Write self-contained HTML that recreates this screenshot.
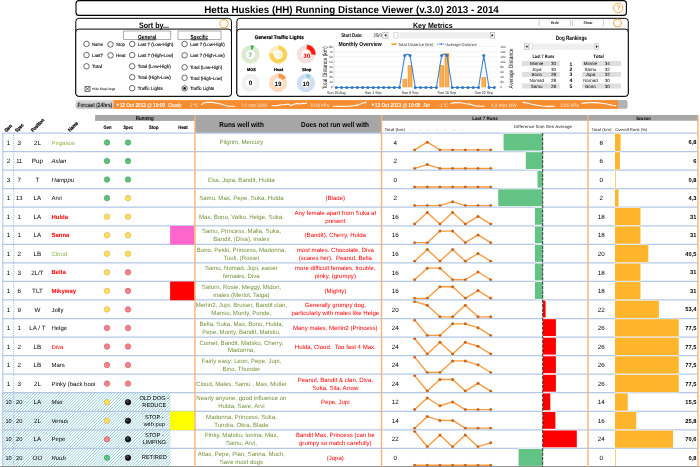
<!DOCTYPE html>
<html><head><meta charset="utf-8"><title>Hetta Huskies (HH) Running Distance Viewer</title>
<style>
html,body{margin:0;padding:0;background:#fff;}
#wrap{position:relative;width:700px;height:467px;overflow:hidden;background:#fff;font-family:"Liberation Sans", sans-serif;}
#wrap svg{position:absolute;left:0;top:0;will-change:transform;}
svg text{font-family:"Liberation Sans", sans-serif;text-rendering:geometricPrecision;}
.c{position:absolute;display:flex;align-items:center;justify-content:center;text-align:center;color:#000;line-height:1.15;box-sizing:border-box;padding-top:1.2px;text-rendering:geometricPrecision;}
</style></head><body>
<div id="wrap">
<svg width="700" height="467" viewBox="0 0 700 467">
<defs>
<radialGradient id="dg" cx="50%" cy="45%" r="55%"><stop offset="0" stop-color="#56b874"/><stop offset="0.6" stop-color="#62c683"/><stop offset="1" stop-color="#4fb56f"/></radialGradient>
<radialGradient id="dy" cx="50%" cy="45%" r="55%"><stop offset="0" stop-color="#ffd535"/><stop offset="0.6" stop-color="#ffe862"/><stop offset="1" stop-color="#ffd95a"/></radialGradient>
<radialGradient id="dr" cx="50%" cy="45%" r="55%"><stop offset="0" stop-color="#f0707a"/><stop offset="0.6" stop-color="#f98c93"/><stop offset="1" stop-color="#ee747d"/></radialGradient>
<radialGradient id="dk" cx="40%" cy="35%" r="60%"><stop offset="0" stop-color="#555"/><stop offset="0.6" stop-color="#1a1a1a"/><stop offset="1" stop-color="#000"/></radialGradient>
<linearGradient id="ob" x1="0" y1="0" x2="1" y2="0"><stop offset="0" stop-color="#f7982a"/><stop offset="0.45" stop-color="#fbb464"/><stop offset="1" stop-color="#f7982a"/></linearGradient>
<linearGradient id="oc" x1="0" y1="0" x2="1" y2="1"><stop offset="0" stop-color="#ffffff"/><stop offset="1" stop-color="#fde3c6"/></linearGradient>
<clipPath id="nclip"><rect x="50" y="130" width="45.1" height="340"/></clipPath>
<linearGradient id="gl" x1="0" y1="0" x2="0" y2="1"><stop offset="0" stop-color="#dcdcdc"/><stop offset="1" stop-color="#b9b9b9"/></linearGradient>
</defs>
<rect x="76.00" y="0.60" width="550.40" height="14.80" rx="3" ry="3" fill="#fff" stroke="#000" stroke-width="1.1"/>
<text x="351.50" y="13.00" font-size="10" font-weight="bold" text-anchor="middle" fill="#000" textLength="294.70" lengthAdjust="spacingAndGlyphs">Hetta Huskies (HH) Running Distance Viewer (v.3.0) 2013 - 2014</text>
<circle cx="618.2" cy="7.9" r="4.75" fill="#fffdfb" stroke="#f7a046" stroke-width="0.9"/>
<text x="618.50" y="10.30" font-size="6.8" font-weight="normal" text-anchor="middle" fill="#f08a24">?</text>
<rect x="75.80" y="18.30" width="155.65" height="78.00" rx="3" ry="3" fill="#fff" stroke="#000" stroke-width="1.0"/>
<rect x="75.80" y="29.10" width="155.65" height="67.20" rx="3" ry="3" fill="#fff" stroke="#000" stroke-width="1.0"/>
<text x="153.90" y="28.00" font-size="8" font-weight="bold" text-anchor="middle" fill="#000" textLength="30.00" lengthAdjust="spacingAndGlyphs">Sort by...</text>
<circle cx="224" cy="23.6" r="4.1" fill="#fffdfb" stroke="#f7a046" stroke-width="0.95"/>
<rect x="123.70" y="31.00" width="47.10" height="8.30" fill="#fff" stroke="#777" stroke-width="0.6"/>
<rect x="178.00" y="31.00" width="43.00" height="8.30" fill="#fff" stroke="#777" stroke-width="0.6"/>
<text x="147.10" y="38.60" font-size="6.0" font-weight="bold" text-anchor="middle" fill="#000" textLength="18.40" lengthAdjust="spacingAndGlyphs" text-decoration="underline">General</text>
<text x="199.30" y="38.60" font-size="6.0" font-weight="bold" text-anchor="middle" fill="#000" textLength="17.40" lengthAdjust="spacingAndGlyphs" text-decoration="underline">Specific</text>
<circle cx="86.5" cy="43.9" r="2.75" fill="#fff" stroke="#2a2a2a" stroke-width="0.7"/>
<text x="92.05" y="45.60" font-size="4.7" font-weight="normal" text-anchor="start" fill="#111" textLength="11.00" lengthAdjust="spacingAndGlyphs" stroke="#111" stroke-width="0.13">Name</text>
<circle cx="86.5" cy="55.1" r="2.75" fill="#fff" stroke="#2a2a2a" stroke-width="0.7"/>
<text x="92.05" y="56.80" font-size="4.7" font-weight="normal" text-anchor="start" fill="#111" textLength="11.00" lengthAdjust="spacingAndGlyphs" stroke="#111" stroke-width="0.13">Last7</text>
<circle cx="86.5" cy="66.3" r="2.75" fill="#fff" stroke="#2a2a2a" stroke-width="0.7"/>
<text x="92.05" y="68.00" font-size="4.7" font-weight="normal" text-anchor="start" fill="#111" textLength="10.00" lengthAdjust="spacingAndGlyphs" stroke="#111" stroke-width="0.13">Total</text>
<circle cx="110.5" cy="44.4" r="2.75" fill="#fff" stroke="#2a2a2a" stroke-width="0.7"/>
<text x="116.05" y="46.10" font-size="4.7" font-weight="normal" text-anchor="start" fill="#111" textLength="9.00" lengthAdjust="spacingAndGlyphs" stroke="#111" stroke-width="0.13">Stop</text>
<circle cx="110.5" cy="55.4" r="2.75" fill="#fff" stroke="#2a2a2a" stroke-width="0.7"/>
<text x="116.05" y="57.10" font-size="4.7" font-weight="normal" text-anchor="start" fill="#111" textLength="9.50" lengthAdjust="spacingAndGlyphs" stroke="#111" stroke-width="0.13">Heat</text>
<circle cx="132.2" cy="44" r="2.75" fill="#fff" stroke="#2a2a2a" stroke-width="0.7"/>
<text x="137.75" y="45.70" font-size="4.7" font-weight="normal" text-anchor="start" fill="#111" textLength="35.50" lengthAdjust="spacingAndGlyphs" stroke="#111" stroke-width="0.13">Last 7 (Low-High)</text>
<circle cx="184.6" cy="44.0" r="2.75" fill="#fff" stroke="#2a2a2a" stroke-width="0.7"/>
<text x="190.15" y="45.70" font-size="4.7" font-weight="normal" text-anchor="start" fill="#111" textLength="34.60" lengthAdjust="spacingAndGlyphs" stroke="#111" stroke-width="0.13">Last 7 (Low-High)</text>
<circle cx="132.2" cy="55.1" r="2.75" fill="#fff" stroke="#2a2a2a" stroke-width="0.7"/>
<text x="137.75" y="56.80" font-size="4.7" font-weight="normal" text-anchor="start" fill="#111" textLength="35.50" lengthAdjust="spacingAndGlyphs" stroke="#111" stroke-width="0.13">Last 7 (High-Low)</text>
<circle cx="184.6" cy="55.3" r="2.75" fill="#fff" stroke="#2a2a2a" stroke-width="0.7"/>
<text x="190.15" y="57.00" font-size="4.7" font-weight="normal" text-anchor="start" fill="#111" textLength="34.60" lengthAdjust="spacingAndGlyphs" stroke="#111" stroke-width="0.13">Last 7 (High-Low)</text>
<circle cx="132.2" cy="66.3" r="2.75" fill="#fff" stroke="#2a2a2a" stroke-width="0.7"/>
<text x="137.75" y="68.00" font-size="4.7" font-weight="normal" text-anchor="start" fill="#111" textLength="33.00" lengthAdjust="spacingAndGlyphs" stroke="#111" stroke-width="0.13">Total (Low-High)</text>
<circle cx="184.6" cy="67.3" r="2.75" fill="#fff" stroke="#2a2a2a" stroke-width="0.7"/>
<text x="190.15" y="69.00" font-size="4.7" font-weight="normal" text-anchor="start" fill="#111" textLength="32.10" lengthAdjust="spacingAndGlyphs" stroke="#111" stroke-width="0.13">Total (Low-High)</text>
<circle cx="132.2" cy="77.2" r="2.75" fill="#fff" stroke="#2a2a2a" stroke-width="0.7"/>
<text x="137.75" y="78.90" font-size="4.7" font-weight="normal" text-anchor="start" fill="#111" textLength="33.00" lengthAdjust="spacingAndGlyphs" stroke="#111" stroke-width="0.13">Total (High-Low)</text>
<circle cx="184.6" cy="77.8" r="2.75" fill="#fff" stroke="#2a2a2a" stroke-width="0.7"/>
<text x="190.15" y="79.50" font-size="4.7" font-weight="normal" text-anchor="start" fill="#111" textLength="32.10" lengthAdjust="spacingAndGlyphs" stroke="#111" stroke-width="0.13">Total (High-Low)</text>
<circle cx="132.2" cy="88.2" r="2.75" fill="#fff" stroke="#2a2a2a" stroke-width="0.7"/>
<text x="137.75" y="89.90" font-size="4.7" font-weight="normal" text-anchor="start" fill="#111" textLength="25.00" lengthAdjust="spacingAndGlyphs" stroke="#111" stroke-width="0.13">Traffic Lights</text>
<circle cx="184.6" cy="88.4" r="2.75" fill="#fff" stroke="#2a2a2a" stroke-width="0.7"/>
<circle cx="184.6" cy="88.4" r="1.45" fill="#111"/>
<text x="190.15" y="90.10" font-size="4.7" font-weight="normal" text-anchor="start" fill="#111" textLength="24.10" lengthAdjust="spacingAndGlyphs" stroke="#111" stroke-width="0.13">Traffic Lights</text>
<rect x="85.00" y="86.40" width="5.00" height="5.00" fill="#fff" stroke="#222" stroke-width="0.6"/>
<path d="M85.6 87 L89.4 90.8 M89.4 87 L85.6 90.8" stroke="#222" stroke-width="0.7" fill="none"/>
<text x="92.30" y="90.10" font-size="3.4" font-weight="bold" text-anchor="start" fill="#333" textLength="23.00" lengthAdjust="spacingAndGlyphs">Hide Stop Dogs</text>
<rect x="236.85" y="18.30" width="391.40" height="78.00" rx="3" ry="3" fill="#fff" stroke="#000" stroke-width="1.0"/>
<rect x="236.85" y="29.10" width="391.40" height="67.20" rx="3" ry="3" fill="#fff" stroke="#000" stroke-width="1.0"/>
<text x="432.80" y="27.60" font-size="7.6" font-weight="bold" text-anchor="middle" fill="#000" textLength="39.60" lengthAdjust="spacingAndGlyphs">Key Metrics</text>
<circle cx="617.5" cy="23.0" r="4.0" fill="#fffdfb" stroke="#f7a046" stroke-width="0.95"/>
<rect x="539.20" y="20.10" width="31.40" height="6.10" fill="#fff" stroke="#e2e2e2" stroke-width="0.5" rx="1.2"/>
<rect x="572.50" y="20.10" width="31.00" height="6.10" fill="#fff" stroke="#e2e2e2" stroke-width="0.5" rx="1.2"/>
<path d="M540 20.2 Q539.2 20.3 539.2 21.2 V25.1 Q539.2 26.1 540 26.2 M569.8 20.2 Q570.6 20.3 570.6 21.2 V25.1 Q570.6 26.1 569.8 26.2 M573.3 20.2 Q572.5 20.3 572.5 21.2 V25.1 Q572.5 26.1 573.3 26.2 M602.7 20.2 Q603.5 20.3 603.5 21.2 V25.1 Q603.5 26.1 602.7 26.2" fill="none" stroke="#b5b5b5" stroke-width="0.6"/>
<text x="554.70" y="24.20" font-size="3.9" font-weight="bold" text-anchor="middle" fill="#222" textLength="8.00" lengthAdjust="spacingAndGlyphs">Hide</text>
<text x="588.00" y="24.20" font-size="3.9" font-weight="bold" text-anchor="middle" fill="#222" textLength="9.00" lengthAdjust="spacingAndGlyphs">Show</text>
<text x="279.30" y="38.90" font-size="5.2" font-weight="bold" text-anchor="middle" fill="#000" textLength="49.10" lengthAdjust="spacingAndGlyphs" stroke="#000" stroke-width="0.2">General Traffic Lights</text>
<circle cx="250.5" cy="54.45" r="4.7" fill="#ffffff"/>
<circle cx="250.5" cy="54.45" r="6.85" fill="none" stroke="#dcead0" stroke-width="4.699999999999999"/>
<path d="M250.57 44.96 A9.2 9.2 0 0 1 254.48 45.83 L252.48 50.09 A4.5 4.5 0 0 0 250.57 49.66z" fill="#4cae5c" stroke="#fff" stroke-width="0.45" stroke-opacity="0.8"/>
<text x="250.30" y="57.10" font-size="6.3" font-weight="bold" text-anchor="middle" fill="#4cae5c">7</text>
<circle cx="278.2" cy="54.45" r="4.7" fill="#ffffff"/>
<circle cx="278.2" cy="54.45" r="6.85" fill="none" stroke="#fdf0c2" stroke-width="4.699999999999999"/>
<path d="M278.20 45.25 A9.2 9.2 0 1 1 269.16 52.73 L273.78 53.61 A4.5 4.5 0 1 0 278.20 49.95z" fill="#f7d258" stroke="#fff" stroke-width="0.45" stroke-opacity="0.8"/>
<text x="278.20" y="57.00" font-size="6.3" font-weight="bold" text-anchor="middle" fill="#fdeeb5">78</text>
<circle cx="305.9" cy="54.4" r="4.7" fill="#ffffff"/>
<circle cx="305.9" cy="54.4" r="6.85" fill="none" stroke="#f5e0de" stroke-width="4.699999999999999"/>
<path d="M306.58 44.62 A9.2 9.2 0 0 1 315.67 55.25 L311.03 54.52 A4.5 4.5 0 0 0 306.58 49.32z" fill="#ff1a0d" stroke="#fff" stroke-width="0.45" stroke-opacity="0.8"/>
<text x="306.70" y="57.55" font-size="6.3" font-weight="bold" text-anchor="middle" fill="#ff0000">30</text>
<circle cx="250.5" cy="82.9" r="4.7" fill="#ffffff"/>
<circle cx="250.5" cy="82.9" r="6.85" fill="none" stroke="#f1f1f1" stroke-width="4.699999999999999"/>
<text x="250.50" y="85.45" font-size="6.3" font-weight="bold" text-anchor="middle" fill="#000">0</text>
<circle cx="278.0" cy="82.9" r="4.7" fill="#ffffff"/>
<circle cx="278.0" cy="82.9" r="6.85" fill="none" stroke="#fddcc2" stroke-width="4.699999999999999"/>
<path d="M278.25 73.27 A9.2 9.2 0 0 1 286.32 78.04 L282.20 80.30 A4.5 4.5 0 0 0 278.25 77.97z" fill="#f79646" stroke="#fff" stroke-width="0.45" stroke-opacity="0.8"/>
<text x="278.00" y="85.55" font-size="6.3" font-weight="bold" text-anchor="middle" fill="#000">19</text>
<circle cx="305.9" cy="82.9" r="4.7" fill="#ffffff"/>
<circle cx="305.9" cy="82.9" r="6.85" fill="none" stroke="#cfdff3" stroke-width="4.699999999999999"/>
<path d="M305.99 73.41 A9.2 9.2 0 0 1 311.40 75.17 L308.64 78.97 A4.5 4.5 0 0 0 305.99 78.11z" fill="#92cddc" stroke="#fff" stroke-width="0.45" stroke-opacity="0.8"/>
<text x="305.90" y="85.55" font-size="6.3" font-weight="bold" text-anchor="middle" fill="#000">10</text>
<text x="251.40" y="71.15" font-size="4.2" font-weight="bold" text-anchor="middle" fill="#000" textLength="8.70" lengthAdjust="spacingAndGlyphs" stroke="#000" stroke-width="0.2">MOS</text>
<text x="278.40" y="71.15" font-size="4.2" font-weight="bold" text-anchor="middle" fill="#000" textLength="9.50" lengthAdjust="spacingAndGlyphs" stroke="#000" stroke-width="0.2">Heat</text>
<text x="306.70" y="71.15" font-size="4.2" font-weight="bold" text-anchor="middle" fill="#000" textLength="9.40" lengthAdjust="spacingAndGlyphs" stroke="#000" stroke-width="0.2">Stop</text>
<text x="341.20" y="37.40" font-size="5.3" font-weight="bold" text-anchor="start" fill="#000" textLength="21.60" lengthAdjust="spacingAndGlyphs">Start Date:</text>
<text x="373.50" y="36.80" font-size="5.0" font-weight="normal" text-anchor="start" fill="#000" textLength="8.50" lengthAdjust="spacingAndGlyphs">25/0</text>
<rect x="382.80" y="32.20" width="5.20" height="6.20" fill="#f6f6f6" stroke="#a0a0a0" stroke-width="0.5"/>
<path d="M384.4 35.3 l1.9 -1.4 v2.8z" fill="#000"/>
<rect x="392.90" y="32.20" width="102.00" height="6.20" fill="#efefef"/>
<rect x="394.00" y="32.40" width="3.40" height="5.80" fill="#fff" stroke="#bbb" stroke-width="0.4"/>
<rect x="490.20" y="32.40" width="4.60" height="5.80" fill="#f6f6f6" stroke="#a0a0a0" stroke-width="0.5"/>
<path d="M493.5 35.3 l-1.9 -1.4 v2.8z" fill="#000"/>
<text x="338.50" y="46.00" font-size="5.9" font-weight="bold" text-anchor="start" fill="#000" textLength="43.30" lengthAdjust="spacingAndGlyphs">Monthly Overview</text>
<rect x="391.40" y="43.30" width="5.20" height="1.60" fill="#f79a2c"/>
<text x="398.00" y="45.50" font-size="4.2" font-weight="normal" text-anchor="start" fill="#333" textLength="35.40" lengthAdjust="spacingAndGlyphs">Total Distance (km)</text>
<line x1="437.00" y1="44.10" x2="445.70" y2="44.10" stroke="#3c7fc9" stroke-width="0.9" stroke-dasharray="1.3 0.6"/>
<circle cx="441.3" cy="44.1" r="0.9" fill="#3c7fc9"/>
<text x="446.30" y="45.50" font-size="4.2" font-weight="normal" text-anchor="start" fill="#333" textLength="30.30" lengthAdjust="spacingAndGlyphs">Average Distance</text>
<line x1="334.00" y1="87.30" x2="497.00" y2="87.30" stroke="#e4e4e4" stroke-width="0.4"/>
<text x="332.80" y="88.40" font-size="3.1" font-weight="normal" text-anchor="end" fill="#222">0</text>
<text x="500.30" y="88.40" font-size="3.1" font-weight="normal" text-anchor="start" fill="#222">0</text>
<line x1="334.00" y1="82.21" x2="497.00" y2="82.21" stroke="#e4e4e4" stroke-width="0.4"/>
<text x="332.80" y="83.31" font-size="3.1" font-weight="normal" text-anchor="end" fill="#222">10</text>
<text x="500.30" y="83.31" font-size="3.1" font-weight="normal" text-anchor="start" fill="#222">20</text>
<line x1="334.00" y1="77.12" x2="497.00" y2="77.12" stroke="#e4e4e4" stroke-width="0.4"/>
<text x="332.80" y="78.22" font-size="3.1" font-weight="normal" text-anchor="end" fill="#222">20</text>
<text x="500.30" y="78.22" font-size="3.1" font-weight="normal" text-anchor="start" fill="#222">40</text>
<line x1="334.00" y1="72.04" x2="497.00" y2="72.04" stroke="#e4e4e4" stroke-width="0.4"/>
<text x="332.80" y="73.14" font-size="3.1" font-weight="normal" text-anchor="end" fill="#222">30</text>
<text x="500.30" y="73.14" font-size="3.1" font-weight="normal" text-anchor="start" fill="#222">60</text>
<line x1="334.00" y1="66.95" x2="497.00" y2="66.95" stroke="#e4e4e4" stroke-width="0.4"/>
<text x="332.80" y="68.05" font-size="3.1" font-weight="normal" text-anchor="end" fill="#222">40</text>
<text x="500.30" y="68.05" font-size="3.1" font-weight="normal" text-anchor="start" fill="#222">80</text>
<line x1="334.00" y1="61.86" x2="497.00" y2="61.86" stroke="#e4e4e4" stroke-width="0.4"/>
<text x="332.80" y="62.96" font-size="3.1" font-weight="normal" text-anchor="end" fill="#222">50</text>
<text x="500.30" y="62.96" font-size="3.1" font-weight="normal" text-anchor="start" fill="#222">100</text>
<line x1="334.00" y1="56.77" x2="497.00" y2="56.77" stroke="#e4e4e4" stroke-width="0.4"/>
<text x="332.80" y="57.88" font-size="3.1" font-weight="normal" text-anchor="end" fill="#222">60</text>
<text x="500.30" y="57.88" font-size="3.1" font-weight="normal" text-anchor="start" fill="#222">120</text>
<line x1="334.00" y1="51.69" x2="497.00" y2="51.69" stroke="#e4e4e4" stroke-width="0.4"/>
<text x="332.80" y="52.79" font-size="3.1" font-weight="normal" text-anchor="end" fill="#222">70</text>
<text x="500.30" y="52.79" font-size="3.1" font-weight="normal" text-anchor="start" fill="#222">140</text>
<line x1="334.00" y1="46.60" x2="497.00" y2="46.60" stroke="#e4e4e4" stroke-width="0.4"/>
<text x="332.80" y="47.70" font-size="3.1" font-weight="normal" text-anchor="end" fill="#222">80</text>
<text x="500.30" y="47.70" font-size="3.1" font-weight="normal" text-anchor="start" fill="#222">160</text>
<line x1="334.00" y1="46.60" x2="334.00" y2="87.30" stroke="#bfbfbf" stroke-width="0.5"/>
<text transform="translate(327.3 67.8) rotate(-90)" font-size="6.2" text-anchor="middle" fill="#111" textLength="42.9" lengthAdjust="spacingAndGlyphs">Total Distance (km)</text>
<text transform="translate(512.6 68.4) rotate(-90)" font-size="6.2" text-anchor="middle" fill="#111" textLength="40" lengthAdjust="spacingAndGlyphs">Average Distance</text>
<rect x="402.47" y="78.70" width="4.60" height="8.60" fill="url(#ob)"/>
<rect x="407.74" y="65.00" width="4.60" height="22.30" fill="url(#ob)"/>
<rect x="439.34" y="65.00" width="4.60" height="22.30" fill="url(#ob)"/>
<rect x="444.61" y="53.00" width="4.60" height="34.30" fill="url(#ob)"/>
<rect x="481.48" y="77.00" width="4.60" height="10.30" fill="url(#ob)"/>
<path d="M336.30 87.50 L341.57 87.50 L346.83 87.50 L352.10 87.50 L357.37 87.50 L362.63 87.50 L367.90 87.50 L373.17 87.50 L378.44 87.50 L383.70 87.50 L388.97 87.50 L394.24 87.50 L399.50 87.50 L404.77 55.60 Q407.40 52.60 410.04 55.60 L415.31 87.50 L420.57 87.50 L425.84 87.50 L431.11 87.50 L436.37 87.50 L441.64 55.60 Q444.27 52.60 446.91 55.60 L452.17 87.50 L457.44 87.50 L462.71 87.50 L467.98 87.50 L473.24 87.50 L478.51 87.50 L483.78 55.60 L489.04 87.50 L494.31 87.50" fill="none" stroke="#3f84d0" stroke-width="1.1" stroke-linejoin="round"/>
<circle cx="336.30" cy="87.50" r="1.5" fill="#2f76c4"/>
<circle cx="341.57" cy="87.50" r="1.5" fill="#2f76c4"/>
<circle cx="346.83" cy="87.50" r="1.5" fill="#2f76c4"/>
<circle cx="352.10" cy="87.50" r="1.5" fill="#2f76c4"/>
<circle cx="357.37" cy="87.50" r="1.5" fill="#2f76c4"/>
<circle cx="362.63" cy="87.50" r="1.5" fill="#2f76c4"/>
<circle cx="367.90" cy="87.50" r="1.5" fill="#2f76c4"/>
<circle cx="373.17" cy="87.50" r="1.5" fill="#2f76c4"/>
<circle cx="378.44" cy="87.50" r="1.5" fill="#2f76c4"/>
<circle cx="383.70" cy="87.50" r="1.5" fill="#2f76c4"/>
<circle cx="388.97" cy="87.50" r="1.5" fill="#2f76c4"/>
<circle cx="394.24" cy="87.50" r="1.5" fill="#2f76c4"/>
<circle cx="399.50" cy="87.50" r="1.5" fill="#2f76c4"/>
<circle cx="404.77" cy="55.60" r="1.5" fill="#2f76c4"/>
<circle cx="410.04" cy="55.60" r="1.5" fill="#2f76c4"/>
<circle cx="415.31" cy="87.50" r="1.5" fill="#2f76c4"/>
<circle cx="420.57" cy="87.50" r="1.5" fill="#2f76c4"/>
<circle cx="425.84" cy="87.50" r="1.5" fill="#2f76c4"/>
<circle cx="431.11" cy="87.50" r="1.5" fill="#2f76c4"/>
<circle cx="436.37" cy="87.50" r="1.5" fill="#2f76c4"/>
<circle cx="441.64" cy="55.60" r="1.5" fill="#2f76c4"/>
<circle cx="446.91" cy="55.60" r="1.5" fill="#2f76c4"/>
<circle cx="452.17" cy="87.50" r="1.5" fill="#2f76c4"/>
<circle cx="457.44" cy="87.50" r="1.5" fill="#2f76c4"/>
<circle cx="462.71" cy="87.50" r="1.5" fill="#2f76c4"/>
<circle cx="467.98" cy="87.50" r="1.5" fill="#2f76c4"/>
<circle cx="473.24" cy="87.50" r="1.5" fill="#2f76c4"/>
<circle cx="478.51" cy="87.50" r="1.5" fill="#2f76c4"/>
<circle cx="483.78" cy="55.60" r="1.5" fill="#2f76c4"/>
<circle cx="489.04" cy="87.50" r="1.5" fill="#2f76c4"/>
<circle cx="494.31" cy="87.50" r="1.5" fill="#2f76c4"/>
<text x="336.30" y="93.80" font-size="3.9" font-weight="normal" text-anchor="middle" fill="#111" textLength="18.60" lengthAdjust="spacingAndGlyphs">Sun 25 Aug</text>
<text x="373.17" y="93.80" font-size="3.9" font-weight="normal" text-anchor="middle" fill="#111" textLength="16.80" lengthAdjust="spacingAndGlyphs">Sun 1 Sep</text>
<text x="410.04" y="93.80" font-size="3.9" font-weight="normal" text-anchor="middle" fill="#111" textLength="16.80" lengthAdjust="spacingAndGlyphs">Sun 8 Sep</text>
<text x="446.91" y="93.80" font-size="3.9" font-weight="normal" text-anchor="middle" fill="#111" textLength="18.60" lengthAdjust="spacingAndGlyphs">Sun 15 Sep</text>
<text x="483.78" y="93.80" font-size="3.9" font-weight="normal" text-anchor="middle" fill="#111" textLength="18.60" lengthAdjust="spacingAndGlyphs">Sun 22 Sep</text>
<text x="571.30" y="39.65" font-size="6.2" font-weight="bold" text-anchor="middle" fill="#000" textLength="31.10" lengthAdjust="spacingAndGlyphs">Dog Rankings</text>
<rect x="524.20" y="43.60" width="74.90" height="6.00" fill="#efefef"/>
<rect x="524.60" y="43.80" width="3.80" height="5.60" fill="#f6f6f6" stroke="#aaa" stroke-width="0.5"/>
<path d="M525.6 46.6 l1.8 -1.3 v2.6z" fill="#000"/>
<rect x="529.40" y="43.80" width="3.00" height="5.60" fill="#fff" stroke="#bbb" stroke-width="0.4"/>
<rect x="594.90" y="43.80" width="3.80" height="5.60" fill="#f6f6f6" stroke="#aaa" stroke-width="0.5"/>
<path d="M597.8 46.6 l-1.8 -1.3 v2.6z" fill="#000"/>
<text x="543.50" y="57.80" font-size="4.8" font-weight="bold" text-anchor="middle" fill="#000" textLength="22.00" lengthAdjust="spacingAndGlyphs">Last 7 Runs</text>
<text x="598.60" y="57.80" font-size="4.8" font-weight="bold" text-anchor="middle" fill="#000" textLength="10.50" lengthAdjust="spacingAndGlyphs">Total</text>
<rect x="521.90" y="61.00" width="37.80" height="5.00" fill="#dedede"/>
<rect x="582.00" y="61.00" width="39.00" height="5.00" fill="#dedede"/>
<text x="536.70" y="65.10" font-size="4.5" font-weight="normal" text-anchor="middle" fill="#000">Minnie</text>
<text x="553.60" y="65.10" font-size="4.5" font-weight="normal" text-anchor="middle" fill="#000">30</text>
<text x="570.90" y="65.50" font-size="5.0" font-weight="bold" text-anchor="middle" fill="#000">1</text>
<text x="590.40" y="65.10" font-size="4.5" font-weight="normal" text-anchor="middle" fill="#000">Minnie</text>
<text x="607.30" y="65.10" font-size="4.5" font-weight="normal" text-anchor="middle" fill="#000">34</text>
<text x="536.70" y="70.60" font-size="4.5" font-weight="normal" text-anchor="middle" fill="#000">Jopa</text>
<text x="553.60" y="70.60" font-size="4.5" font-weight="normal" text-anchor="middle" fill="#000">30</text>
<text x="570.90" y="71.00" font-size="5.0" font-weight="bold" text-anchor="middle" fill="#000">2</text>
<text x="590.40" y="70.60" font-size="4.5" font-weight="normal" text-anchor="middle" fill="#000">Samu</text>
<text x="607.30" y="70.60" font-size="4.5" font-weight="normal" text-anchor="middle" fill="#000">32</text>
<rect x="521.90" y="71.90" width="37.80" height="5.00" fill="#dedede"/>
<rect x="582.00" y="71.90" width="39.00" height="5.00" fill="#dedede"/>
<text x="536.70" y="76.00" font-size="4.5" font-weight="normal" text-anchor="middle" fill="#000">Bono</text>
<text x="553.60" y="76.00" font-size="4.5" font-weight="normal" text-anchor="middle" fill="#000">28</text>
<text x="570.90" y="76.40" font-size="5.0" font-weight="bold" text-anchor="middle" fill="#000">3</text>
<text x="590.40" y="76.00" font-size="4.5" font-weight="normal" text-anchor="middle" fill="#000">Jopa</text>
<text x="607.30" y="76.00" font-size="4.5" font-weight="normal" text-anchor="middle" fill="#000">32</text>
<text x="536.70" y="82.00" font-size="4.5" font-weight="normal" text-anchor="middle" fill="#000">Nomad</text>
<text x="553.60" y="82.00" font-size="4.5" font-weight="normal" text-anchor="middle" fill="#000">28</text>
<text x="570.90" y="82.40" font-size="5.0" font-weight="bold" text-anchor="middle" fill="#000">4</text>
<text x="590.40" y="82.00" font-size="4.5" font-weight="normal" text-anchor="middle" fill="#000">Nomad</text>
<text x="607.30" y="82.00" font-size="4.5" font-weight="normal" text-anchor="middle" fill="#000">30</text>
<rect x="521.90" y="83.50" width="37.80" height="5.00" fill="#dedede"/>
<rect x="582.00" y="83.50" width="39.00" height="5.00" fill="#dedede"/>
<text x="536.70" y="87.60" font-size="4.5" font-weight="normal" text-anchor="middle" fill="#000">Samu</text>
<text x="553.60" y="87.60" font-size="4.5" font-weight="normal" text-anchor="middle" fill="#000">28</text>
<text x="570.90" y="88.00" font-size="5.0" font-weight="bold" text-anchor="middle" fill="#000">5</text>
<text x="590.40" y="87.60" font-size="4.5" font-weight="normal" text-anchor="middle" fill="#000">Bono</text>
<text x="607.30" y="87.60" font-size="4.5" font-weight="normal" text-anchor="middle" fill="#000">30</text>
<path d="M78.3 100.1 H113.4 V108.8 H78.3 Q75.4 108.8 75.4 104.5 Q75.4 100.1 78.3 100.1z" fill="url(#gl)"/>
<rect x="113.40" y="100.10" width="504.60" height="8.80" fill="#f78c30"/>
<path d="M618 100.1 H625.4 Q627.6 100.1 627.6 102.3 V106.6 Q627.6 108.8 625.4 108.8 H618z" fill="#b3b3b3"/>
<text x="77.50" y="107.00" font-size="6.2" font-weight="bold" text-anchor="start" fill="#222" textLength="34.70" lengthAdjust="spacingAndGlyphs">Forcast (24hrs)</text>
<text x="116.70" y="106.80" font-size="5.8" font-weight="bold" text-anchor="start" fill="#fff" textLength="48.50" lengthAdjust="spacingAndGlyphs">• 12 Oct 2013 @ 10:00</text>
<text x="168.30" y="106.80" font-size="5.8" font-weight="bold" text-anchor="start" fill="#fff" textLength="13.20" lengthAdjust="spacingAndGlyphs" font-style="italic">Cloudy</text>
<text x="190.30" y="107.00" font-size="5.0" font-weight="normal" text-anchor="start" fill="#fff4ea" textLength="8.00" lengthAdjust="spacingAndGlyphs">2 °C</text>
<text x="241.50" y="107.00" font-size="5.0" font-weight="normal" text-anchor="start" fill="#fde6d2" textLength="25.30" lengthAdjust="spacingAndGlyphs">2,2 mps SSW</text>
<text x="310.00" y="107.00" font-size="5.0" font-weight="normal" text-anchor="start" fill="#fde6d2" textLength="19.00" lengthAdjust="spacingAndGlyphs">1018 hPa</text>
<text x="371.90" y="106.80" font-size="5.8" font-weight="bold" text-anchor="start" fill="#fff" textLength="48.50" lengthAdjust="spacingAndGlyphs">• 13 Oct 2013 @ 10:00</text>
<text x="423.40" y="106.80" font-size="5.8" font-weight="bold" text-anchor="start" fill="#fff" textLength="6.50" lengthAdjust="spacingAndGlyphs" font-style="italic">Fair</text>
<text x="438.90" y="107.00" font-size="5.0" font-weight="normal" text-anchor="start" fill="#fff4ea" textLength="9.00" lengthAdjust="spacingAndGlyphs">-1 °C</text>
<text x="490.90" y="107.00" font-size="5.0" font-weight="normal" text-anchor="start" fill="#fde6d2" textLength="25.70" lengthAdjust="spacingAndGlyphs">4,9 mps NW</text>
<text x="560.00" y="107.00" font-size="5.0" font-weight="normal" text-anchor="start" fill="#fde6d2" textLength="18.60" lengthAdjust="spacingAndGlyphs">1026 hPa</text>
<circle cx="117.7" cy="104.6" r="1.05" fill="#fff"/><circle cx="372.8" cy="104.6" r="1.05" fill="#fff"/>
<path d="M201.4 104.6 L204.0 103.0 L207.0 102.2 L212.0 102.4 L217.0 103.2 L222.0 104.3 L226.0 105.8 L230.0 106.2 L234.6 106.2" fill="none" stroke="#fff" stroke-width="1.1" stroke-linejoin="round" stroke-linecap="round"/>
<path d="M272.0 105.8 L277.0 105.6 L281.0 104.8 L285.0 104.6 L288.0 104.0 L291.0 105.6 L294.0 104.2 L297.0 103.4 L300.0 104.0 L303.0 103.2 L306.4 103.4" fill="none" stroke="#fff" stroke-width="1.1" stroke-linejoin="round" stroke-linecap="round"/>
<path d="M333.3 106.2 L340.0 106.4 L348.0 106.2 L355.0 105.6 L359.0 104.6 L363.0 103.0 L366.0 102.4" fill="none" stroke="#fff" stroke-width="1.1" stroke-linejoin="round" stroke-linecap="round"/>
<path d="M450.7 103.6 L455.0 102.6 L461.0 102.8 L466.0 103.8 L471.0 104.4 L475.0 105.8 L480.0 106.2 L484.3 106.0" fill="none" stroke="#fff" stroke-width="1.1" stroke-linejoin="round" stroke-linecap="round"/>
<path d="M522.9 102.4 L527.0 103.0 L532.0 104.2 L537.0 105.2 L542.0 106.0 L548.0 106.4 L554.3 106.2" fill="none" stroke="#fff" stroke-width="1.1" stroke-linejoin="round" stroke-linecap="round"/>
<path d="M582.0 103.4 L588.0 102.6 L595.0 102.6 L602.0 103.2 L608.0 104.2 L612.0 105.2 L615.7 105.6" fill="none" stroke="#fff" stroke-width="1.1" stroke-linejoin="round" stroke-linecap="round"/>
<rect x="95.10" y="115.00" width="99.90" height="5.90" fill="#a6a6a6"/>
<text x="144.80" y="120.10" font-size="5.6" font-weight="bold" text-anchor="middle" fill="#000" textLength="18.00" lengthAdjust="spacingAndGlyphs">Running</text>
<rect x="195.00" y="115.00" width="186.50" height="18.10" fill="#a6a6a6"/>
<text x="241.60" y="127.00" font-size="7.2" font-weight="bold" text-anchor="middle" fill="#000" textLength="44.50" lengthAdjust="spacingAndGlyphs">Runs well with</text>
<text x="335.00" y="127.00" font-size="7.2" font-weight="bold" text-anchor="middle" fill="#000" textLength="68.00" lengthAdjust="spacingAndGlyphs">Does not run well with</text>
<rect x="381.50" y="115.00" width="316.50" height="5.70" fill="#a6a6a6"/>
<text x="485.00" y="119.80" font-size="4.8" font-weight="bold" text-anchor="middle" fill="#000" textLength="25.50" lengthAdjust="spacingAndGlyphs">Last 7 Runs</text>
<text x="643.40" y="119.80" font-size="4.8" font-weight="bold" text-anchor="middle" fill="#000" textLength="14.50" lengthAdjust="spacingAndGlyphs">Season</text>
<text x="107.50" y="129.00" font-size="4.9" font-weight="bold" text-anchor="middle" fill="#000" textLength="8.00" lengthAdjust="spacingAndGlyphs" stroke="#000" stroke-width="0.12">Gen</text>
<text x="128.20" y="129.00" font-size="4.9" font-weight="bold" text-anchor="middle" fill="#000" textLength="9.50" lengthAdjust="spacingAndGlyphs" stroke="#000" stroke-width="0.12">Spec</text>
<text x="153.80" y="129.00" font-size="4.9" font-weight="bold" text-anchor="middle" fill="#000" textLength="9.50" lengthAdjust="spacingAndGlyphs" stroke="#000" stroke-width="0.12">Stop</text>
<text x="183.00" y="129.00" font-size="4.9" font-weight="bold" text-anchor="middle" fill="#000" textLength="9.50" lengthAdjust="spacingAndGlyphs" stroke="#000" stroke-width="0.12">Heat</text>
<text x="384.40" y="131.30" font-size="4.0" font-weight="normal" text-anchor="start" fill="#222" textLength="20.60" lengthAdjust="spacingAndGlyphs">Total (km)</text>
<text x="411.00" y="131.30" font-size="3" font-weight="normal" text-anchor="middle" fill="#c8c8c8">1</text>
<text x="419.60" y="131.30" font-size="3" font-weight="normal" text-anchor="middle" fill="#c8c8c8">2</text>
<text x="428.20" y="131.30" font-size="3" font-weight="normal" text-anchor="middle" fill="#c8c8c8">3</text>
<text x="436.80" y="131.30" font-size="3" font-weight="normal" text-anchor="middle" fill="#c8c8c8">4</text>
<text x="445.40" y="131.30" font-size="3" font-weight="normal" text-anchor="middle" fill="#c8c8c8">5</text>
<text x="454.00" y="131.30" font-size="3" font-weight="normal" text-anchor="middle" fill="#c8c8c8">6</text>
<text x="462.60" y="131.30" font-size="3" font-weight="normal" text-anchor="middle" fill="#c8c8c8">7</text>
<text x="514.00" y="128.30" font-size="4.2" font-weight="normal" text-anchor="start" fill="#222" textLength="58.00" lengthAdjust="spacingAndGlyphs">Difference from Gen Average</text>
<text x="591.60" y="131.40" font-size="4.0" font-weight="normal" text-anchor="start" fill="#222" textLength="19.80" lengthAdjust="spacingAndGlyphs">Total (km)</text>
<text x="615.20" y="131.40" font-size="4.0" font-weight="normal" text-anchor="start" fill="#222" textLength="32.20" lengthAdjust="spacingAndGlyphs">Overall Rank (%)</text>
<text transform="translate(8.2 128.0) rotate(-45)" font-size="5.1" font-weight="bold" text-anchor="middle" textLength="8.7" lengthAdjust="spacingAndGlyphs" dy="1.8" stroke="#000" stroke-width="0.22">Gen</text>
<text transform="translate(19.15 127.65) rotate(-45)" font-size="5.1" font-weight="bold" text-anchor="middle" textLength="9.9" lengthAdjust="spacingAndGlyphs" dy="1.8" stroke="#000" stroke-width="0.22">Spec</text>
<text transform="translate(37.5 125.15) rotate(-45)" font-size="5.1" font-weight="bold" text-anchor="middle" textLength="16.7" lengthAdjust="spacingAndGlyphs" dy="1.8" stroke="#000" stroke-width="0.22">Position</text>
<text transform="translate(73.0 126.45) rotate(-45)" font-size="5.1" font-weight="bold" text-anchor="middle" textLength="12.1" lengthAdjust="spacingAndGlyphs" dy="1.8" stroke="#000" stroke-width="0.22">Name</text>
<clipPath id="hclip"><rect x="2.6" y="392.70" width="168" height="75.30"/></clipPath>
<path d="M-75.70 468.00L-0.40 392.70M-72.80 468.00L2.50 392.70M-69.90 468.00L5.40 392.70M-67.00 468.00L8.30 392.70M-64.10 468.00L11.20 392.70M-61.20 468.00L14.10 392.70M-58.30 468.00L17.00 392.70M-55.40 468.00L19.90 392.70M-52.50 468.00L22.80 392.70M-49.60 468.00L25.70 392.70M-46.70 468.00L28.60 392.70M-43.80 468.00L31.50 392.70M-40.90 468.00L34.40 392.70M-38.00 468.00L37.30 392.70M-35.10 468.00L40.20 392.70M-32.20 468.00L43.10 392.70M-29.30 468.00L46.00 392.70M-26.40 468.00L48.90 392.70M-23.50 468.00L51.80 392.70M-20.60 468.00L54.70 392.70M-17.70 468.00L57.60 392.70M-14.80 468.00L60.50 392.70M-11.90 468.00L63.40 392.70M-9.00 468.00L66.30 392.70M-6.10 468.00L69.20 392.70M-3.20 468.00L72.10 392.70M-0.30 468.00L75.00 392.70M2.60 468.00L77.90 392.70M5.50 468.00L80.80 392.70M8.40 468.00L83.70 392.70M11.30 468.00L86.60 392.70M14.20 468.00L89.50 392.70M17.10 468.00L92.40 392.70M20.00 468.00L95.30 392.70M22.90 468.00L98.20 392.70M25.80 468.00L101.10 392.70M28.70 468.00L104.00 392.70M31.60 468.00L106.90 392.70M34.50 468.00L109.80 392.70M37.40 468.00L112.70 392.70M40.30 468.00L115.60 392.70M43.20 468.00L118.50 392.70M46.10 468.00L121.40 392.70M49.00 468.00L124.30 392.70M51.90 468.00L127.20 392.70M54.80 468.00L130.10 392.70M57.70 468.00L133.00 392.70M60.60 468.00L135.90 392.70M63.50 468.00L138.80 392.70M66.40 468.00L141.70 392.70M69.30 468.00L144.60 392.70M72.20 468.00L147.50 392.70M75.10 468.00L150.40 392.70M78.00 468.00L153.30 392.70M80.90 468.00L156.20 392.70M83.80 468.00L159.10 392.70M86.70 468.00L162.00 392.70M89.60 468.00L164.90 392.70M92.50 468.00L167.80 392.70M95.40 468.00L170.70 392.70M98.30 468.00L173.60 392.70M101.20 468.00L176.50 392.70M104.10 468.00L179.40 392.70M107.00 468.00L182.30 392.70M109.90 468.00L185.20 392.70M112.80 468.00L188.10 392.70M115.70 468.00L191.00 392.70M118.60 468.00L193.90 392.70M121.50 468.00L196.80 392.70M124.40 468.00L199.70 392.70M127.30 468.00L202.60 392.70M130.20 468.00L205.50 392.70M133.10 468.00L208.40 392.70M136.00 468.00L211.30 392.70M138.90 468.00L214.20 392.70M141.80 468.00L217.10 392.70M144.70 468.00L220.00 392.70M147.60 468.00L222.90 392.70M150.50 468.00L225.80 392.70M153.40 468.00L228.70 392.70M156.30 468.00L231.60 392.70M159.20 468.00L234.50 392.70M162.10 468.00L237.40 392.70M165.00 468.00L240.30 392.70M167.90 468.00L243.20 392.70M170.80 468.00L246.10 392.70" stroke="#7cc3d4" stroke-width="0.861" fill="none" clip-path="url(#hclip)"/>
<circle cx="107" cy="142.47" r="2.75" fill="url(#dg)" stroke="#3f9e5c" stroke-width="0.6"/>
<circle cx="128" cy="142.47" r="2.75" fill="url(#dg)" stroke="#3f9e5c" stroke-width="0.6"/>
<polyline points="414.60,149.90 427.28,142.18 439.96,149.90 452.64,149.90 465.32,149.90 478.00,149.90 490.68,149.90" fill="none" stroke="#f79a3e" stroke-width="1.35" stroke-linejoin="round"/>
<circle cx="414.60" cy="149.90" r="1.5" fill="#c9661a"/>
<circle cx="427.28" cy="142.18" r="1.5" fill="#c9661a"/>
<circle cx="439.96" cy="149.90" r="1.5" fill="#c9661a"/>
<circle cx="452.64" cy="149.90" r="1.5" fill="#c9661a"/>
<circle cx="465.32" cy="149.90" r="1.5" fill="#c9661a"/>
<circle cx="478.00" cy="149.90" r="1.5" fill="#c9661a"/>
<circle cx="490.68" cy="149.90" r="1.5" fill="#c9661a"/>
<text x="8.50" y="144.66" font-size="6.25" font-weight="normal" text-anchor="middle" fill="#000">1</text>
<text x="19.20" y="144.66" font-size="6.25" font-weight="normal" text-anchor="middle" fill="#000">3</text>
<text x="37.40" y="144.66" font-size="6.25" font-weight="normal" text-anchor="middle" fill="#000">2L</text>
<text x="51.40" y="144.57" font-size="6.0" font-weight="normal" text-anchor="start" fill="#90b648" clip-path="url(#nclip)">Pegasos</text>
<text x="241.40" y="144.48" font-size="6.05" font-weight="normal" text-anchor="middle" fill="#77933c" xml:space="preserve">Pilgrim, Mercury</text>
<text x="395.30" y="144.66" font-size="6.25" font-weight="normal" text-anchor="middle" fill="#000">4</text>
<text x="601.20" y="144.66" font-size="6.25" font-weight="normal" text-anchor="middle" fill="#000">8</text>
<text x="696.40" y="144.47" font-size="5.7" font-weight="bold" text-anchor="end" fill="#000">6,8</text>
<circle cx="107" cy="161.03" r="2.75" fill="url(#dg)" stroke="#3f9e5c" stroke-width="0.6"/>
<circle cx="128" cy="161.03" r="2.75" fill="url(#dg)" stroke="#3f9e5c" stroke-width="0.6"/>
<polyline points="414.60,168.45 427.28,164.59 439.96,168.45 452.64,168.45 465.32,168.45 478.00,168.45 490.68,168.45" fill="none" stroke="#f79a3e" stroke-width="1.35" stroke-linejoin="round"/>
<circle cx="414.60" cy="168.45" r="1.5" fill="#c9661a"/>
<circle cx="427.28" cy="164.59" r="1.5" fill="#c9661a"/>
<circle cx="439.96" cy="168.45" r="1.5" fill="#c9661a"/>
<circle cx="452.64" cy="168.45" r="1.5" fill="#c9661a"/>
<circle cx="465.32" cy="168.45" r="1.5" fill="#c9661a"/>
<circle cx="478.00" cy="168.45" r="1.5" fill="#c9661a"/>
<circle cx="490.68" cy="168.45" r="1.5" fill="#c9661a"/>
<text x="8.50" y="163.21" font-size="6.25" font-weight="normal" text-anchor="middle" fill="#000">2</text>
<text x="19.20" y="163.05" font-size="5.8" font-weight="normal" text-anchor="middle" fill="#000">11</text>
<text x="37.40" y="163.21" font-size="6.25" font-weight="normal" text-anchor="middle" fill="#000">Pup</text>
<text x="51.40" y="163.12" font-size="6.0" font-weight="normal" text-anchor="start" fill="#000000" font-style="italic" clip-path="url(#nclip)">Aslan</text>
<text x="395.30" y="163.21" font-size="6.25" font-weight="normal" text-anchor="middle" fill="#000">2</text>
<text x="601.20" y="163.21" font-size="6.25" font-weight="normal" text-anchor="middle" fill="#000">6</text>
<text x="696.40" y="163.02" font-size="5.7" font-weight="bold" text-anchor="end" fill="#000">6</text>
<circle cx="107" cy="179.57" r="2.75" fill="url(#dg)" stroke="#3f9e5c" stroke-width="0.6"/>
<circle cx="128" cy="179.57" r="2.75" fill="url(#dg)" stroke="#3f9e5c" stroke-width="0.6"/>
<polyline points="414.60,187.00 427.28,187.00 439.96,187.00 452.64,187.00 465.32,187.00 478.00,187.00 490.68,187.00" fill="none" stroke="#f79a3e" stroke-width="1.35" stroke-linejoin="round"/>
<circle cx="414.60" cy="187.00" r="1.5" fill="#c9661a"/>
<circle cx="427.28" cy="187.00" r="1.5" fill="#c9661a"/>
<circle cx="439.96" cy="187.00" r="1.5" fill="#c9661a"/>
<circle cx="452.64" cy="187.00" r="1.5" fill="#c9661a"/>
<circle cx="465.32" cy="187.00" r="1.5" fill="#c9661a"/>
<circle cx="478.00" cy="187.00" r="1.5" fill="#c9661a"/>
<circle cx="490.68" cy="187.00" r="1.5" fill="#c9661a"/>
<text x="8.50" y="181.76" font-size="6.25" font-weight="normal" text-anchor="middle" fill="#000">3</text>
<text x="19.20" y="181.76" font-size="6.25" font-weight="normal" text-anchor="middle" fill="#000">7</text>
<text x="37.40" y="181.76" font-size="6.25" font-weight="normal" text-anchor="middle" fill="#000">T</text>
<text x="51.40" y="181.67" font-size="6.0" font-weight="normal" text-anchor="start" fill="#000000" font-style="italic" clip-path="url(#nclip)">Hamppu</text>
<text x="241.40" y="181.58" font-size="6.05" font-weight="normal" text-anchor="middle" fill="#77933c" xml:space="preserve">Eka, Jopa, Bandit, Hulda</text>
<text x="395.30" y="181.76" font-size="6.25" font-weight="normal" text-anchor="middle" fill="#000">0</text>
<text x="601.20" y="181.76" font-size="6.25" font-weight="normal" text-anchor="middle" fill="#000">0</text>
<text x="696.40" y="181.57" font-size="5.7" font-weight="bold" text-anchor="end" fill="#000">0,8</text>
<circle cx="107" cy="198.12" r="2.75" fill="url(#dg)" stroke="#3f9e5c" stroke-width="0.6"/>
<circle cx="128" cy="198.12" r="2.75" fill="url(#dy)" stroke="#e0a448" stroke-width="0.6"/>
<polyline points="414.60,205.55 427.28,205.55 439.96,205.55 452.64,201.69 465.32,205.55 478.00,205.55 490.68,205.55" fill="none" stroke="#f79a3e" stroke-width="1.35" stroke-linejoin="round"/>
<circle cx="414.60" cy="205.55" r="1.5" fill="#c9661a"/>
<circle cx="427.28" cy="205.55" r="1.5" fill="#c9661a"/>
<circle cx="439.96" cy="205.55" r="1.5" fill="#c9661a"/>
<circle cx="452.64" cy="201.69" r="1.5" fill="#c9661a"/>
<circle cx="465.32" cy="205.55" r="1.5" fill="#c9661a"/>
<circle cx="478.00" cy="205.55" r="1.5" fill="#c9661a"/>
<circle cx="490.68" cy="205.55" r="1.5" fill="#c9661a"/>
<text x="8.50" y="200.31" font-size="6.25" font-weight="normal" text-anchor="middle" fill="#000">1</text>
<text x="19.20" y="200.15" font-size="5.8" font-weight="normal" text-anchor="middle" fill="#000">13</text>
<text x="37.40" y="200.31" font-size="6.25" font-weight="normal" text-anchor="middle" fill="#000">LA</text>
<text x="51.40" y="200.22" font-size="6.0" font-weight="normal" text-anchor="start" fill="#000000" clip-path="url(#nclip)">Arvi</text>
<text x="241.40" y="200.13" font-size="6.05" font-weight="normal" text-anchor="middle" fill="#77933c" xml:space="preserve">Samu, Max, Pepe, Suka, Hulda</text>
<text x="335.30" y="200.13" font-size="6.05" font-weight="normal" text-anchor="middle" fill="#ff0000" xml:space="preserve">(Blade)</text>
<text x="395.30" y="200.31" font-size="6.25" font-weight="normal" text-anchor="middle" fill="#000">2</text>
<text x="601.20" y="200.31" font-size="6.25" font-weight="normal" text-anchor="middle" fill="#000">2</text>
<text x="696.40" y="200.12" font-size="5.7" font-weight="bold" text-anchor="end" fill="#000">4,3</text>
<circle cx="107" cy="216.67" r="2.75" fill="url(#dy)" stroke="#e0a448" stroke-width="0.6"/>
<circle cx="128" cy="216.67" r="2.75" fill="url(#dy)" stroke="#e0a448" stroke-width="0.6"/>
<polyline points="414.60,224.10 427.28,212.52 439.96,224.10 452.64,212.52 465.32,224.10 478.00,216.38 490.68,224.10" fill="none" stroke="#f79a3e" stroke-width="1.35" stroke-linejoin="round"/>
<circle cx="414.60" cy="224.10" r="1.5" fill="#c9661a"/>
<circle cx="427.28" cy="212.52" r="1.5" fill="#c9661a"/>
<circle cx="439.96" cy="224.10" r="1.5" fill="#c9661a"/>
<circle cx="452.64" cy="212.52" r="1.5" fill="#c9661a"/>
<circle cx="465.32" cy="224.10" r="1.5" fill="#c9661a"/>
<circle cx="478.00" cy="216.38" r="1.5" fill="#c9661a"/>
<circle cx="490.68" cy="224.10" r="1.5" fill="#c9661a"/>
<text x="8.50" y="218.86" font-size="6.25" font-weight="normal" text-anchor="middle" fill="#000">1</text>
<text x="19.20" y="218.86" font-size="6.25" font-weight="normal" text-anchor="middle" fill="#000">1</text>
<text x="37.40" y="218.86" font-size="6.25" font-weight="normal" text-anchor="middle" fill="#000">LA</text>
<text x="51.40" y="218.77" font-size="6.0" font-weight="bold" text-anchor="start" fill="#ff0000" clip-path="url(#nclip)">Hulda</text>
<text x="241.40" y="218.68" font-size="6.05" font-weight="normal" text-anchor="middle" fill="#77933c" xml:space="preserve">Max, Bono, Valko, Helge, Suka.</text>
<text x="335.30" y="214.73" font-size="6.05" font-weight="normal" text-anchor="middle" fill="#ff0000" xml:space="preserve">Any female apart from Suka at</text>
<text x="335.30" y="222.63" font-size="6.05" font-weight="normal" text-anchor="middle" fill="#ff0000" xml:space="preserve">present</text>
<text x="395.30" y="218.86" font-size="6.25" font-weight="normal" text-anchor="middle" fill="#000">16</text>
<text x="601.20" y="218.86" font-size="6.25" font-weight="normal" text-anchor="middle" fill="#000">18</text>
<text x="696.40" y="218.67" font-size="5.7" font-weight="bold" text-anchor="end" fill="#000">31</text>
<circle cx="107" cy="235.22" r="2.75" fill="url(#dy)" stroke="#e0a448" stroke-width="0.6"/>
<circle cx="128" cy="235.22" r="2.75" fill="url(#dy)" stroke="#e0a448" stroke-width="0.6"/>
<polyline points="414.60,242.65 427.28,242.65 439.96,231.07 452.64,231.07 465.32,242.65 478.00,234.93 490.68,242.65" fill="none" stroke="#f79a3e" stroke-width="1.35" stroke-linejoin="round"/>
<circle cx="414.60" cy="242.65" r="1.5" fill="#c9661a"/>
<circle cx="427.28" cy="242.65" r="1.5" fill="#c9661a"/>
<circle cx="439.96" cy="231.07" r="1.5" fill="#c9661a"/>
<circle cx="452.64" cy="231.07" r="1.5" fill="#c9661a"/>
<circle cx="465.32" cy="242.65" r="1.5" fill="#c9661a"/>
<circle cx="478.00" cy="234.93" r="1.5" fill="#c9661a"/>
<circle cx="490.68" cy="242.65" r="1.5" fill="#c9661a"/>
<text x="8.50" y="237.41" font-size="6.25" font-weight="normal" text-anchor="middle" fill="#000">1</text>
<text x="19.20" y="237.41" font-size="6.25" font-weight="normal" text-anchor="middle" fill="#000">1</text>
<text x="37.40" y="237.41" font-size="6.25" font-weight="normal" text-anchor="middle" fill="#000">LA</text>
<text x="51.40" y="237.32" font-size="6.0" font-weight="bold" text-anchor="start" fill="#ff0000" clip-path="url(#nclip)">Sanna</text>
<text x="241.40" y="233.28" font-size="6.05" font-weight="normal" text-anchor="middle" fill="#77933c" xml:space="preserve">Samu, Princess, Malla, Suka,</text>
<text x="241.40" y="241.18" font-size="6.05" font-weight="normal" text-anchor="middle" fill="#77933c" xml:space="preserve">Bandit, (Diva), males</text>
<text x="335.30" y="237.23" font-size="6.05" font-weight="normal" text-anchor="middle" fill="#ff0000" xml:space="preserve">(Bandit), Cherry, Hulda</text>
<text x="395.30" y="237.41" font-size="6.25" font-weight="normal" text-anchor="middle" fill="#000">16</text>
<text x="601.20" y="237.41" font-size="6.25" font-weight="normal" text-anchor="middle" fill="#000">18</text>
<text x="696.40" y="237.22" font-size="5.7" font-weight="bold" text-anchor="end" fill="#000">31</text>
<circle cx="107" cy="253.78" r="2.75" fill="url(#dy)" stroke="#e0a448" stroke-width="0.6"/>
<circle cx="128" cy="253.78" r="2.75" fill="url(#dy)" stroke="#e0a448" stroke-width="0.6"/>
<polyline points="414.60,261.20 427.28,249.62 439.96,261.20 452.64,249.62 465.32,261.20 478.00,253.48 490.68,261.20" fill="none" stroke="#f79a3e" stroke-width="1.35" stroke-linejoin="round"/>
<circle cx="414.60" cy="261.20" r="1.5" fill="#c9661a"/>
<circle cx="427.28" cy="249.62" r="1.5" fill="#c9661a"/>
<circle cx="439.96" cy="261.20" r="1.5" fill="#c9661a"/>
<circle cx="452.64" cy="249.62" r="1.5" fill="#c9661a"/>
<circle cx="465.32" cy="261.20" r="1.5" fill="#c9661a"/>
<circle cx="478.00" cy="253.48" r="1.5" fill="#c9661a"/>
<circle cx="490.68" cy="261.20" r="1.5" fill="#c9661a"/>
<text x="8.50" y="255.96" font-size="6.25" font-weight="normal" text-anchor="middle" fill="#000">1</text>
<text x="19.20" y="255.96" font-size="6.25" font-weight="normal" text-anchor="middle" fill="#000">2</text>
<text x="37.40" y="255.96" font-size="6.25" font-weight="normal" text-anchor="middle" fill="#000">LB</text>
<text x="51.40" y="255.87" font-size="6.0" font-weight="normal" text-anchor="start" fill="#90b648" clip-path="url(#nclip)">Cloud</text>
<text x="241.40" y="251.83" font-size="6.05" font-weight="normal" text-anchor="middle" fill="#77933c" xml:space="preserve">Bono, Pekki, Princess, Madonna,</text>
<text x="241.40" y="259.73" font-size="6.05" font-weight="normal" text-anchor="middle" fill="#77933c" xml:space="preserve">Tuuli, (Rosie)</text>
<text x="335.30" y="251.83" font-size="6.05" font-weight="normal" text-anchor="middle" fill="#ff0000" xml:space="preserve">most males. Chocolate, Diva</text>
<text x="335.30" y="259.73" font-size="6.05" font-weight="normal" text-anchor="middle" fill="#ff0000" xml:space="preserve">(scares her).  Peanut, Bella</text>
<text x="395.30" y="255.96" font-size="6.25" font-weight="normal" text-anchor="middle" fill="#000">16</text>
<text x="601.20" y="255.96" font-size="6.25" font-weight="normal" text-anchor="middle" fill="#000">20</text>
<text x="696.40" y="255.77" font-size="5.7" font-weight="bold" text-anchor="end" fill="#000">40,5</text>
<circle cx="107" cy="272.32" r="2.75" fill="url(#dy)" stroke="#e0a448" stroke-width="0.6"/>
<circle cx="128" cy="272.32" r="2.75" fill="url(#dr)" stroke="#cc5560" stroke-width="0.6"/>
<polyline points="414.60,279.75 427.28,268.17 439.96,268.17 452.64,279.75 465.32,279.75 478.00,272.03 490.68,279.75" fill="none" stroke="#f79a3e" stroke-width="1.35" stroke-linejoin="round"/>
<circle cx="414.60" cy="279.75" r="1.5" fill="#c9661a"/>
<circle cx="427.28" cy="268.17" r="1.5" fill="#c9661a"/>
<circle cx="439.96" cy="268.17" r="1.5" fill="#c9661a"/>
<circle cx="452.64" cy="279.75" r="1.5" fill="#c9661a"/>
<circle cx="465.32" cy="279.75" r="1.5" fill="#c9661a"/>
<circle cx="478.00" cy="272.03" r="1.5" fill="#c9661a"/>
<circle cx="490.68" cy="279.75" r="1.5" fill="#c9661a"/>
<text x="8.50" y="274.51" font-size="6.25" font-weight="normal" text-anchor="middle" fill="#000">1</text>
<text x="19.20" y="274.51" font-size="6.25" font-weight="normal" text-anchor="middle" fill="#000">3</text>
<text x="37.40" y="274.51" font-size="6.25" font-weight="normal" text-anchor="middle" fill="#000">2L/T</text>
<text x="51.40" y="274.42" font-size="6.0" font-weight="bold" text-anchor="start" fill="#ff0000" clip-path="url(#nclip)">Bella</text>
<text x="241.40" y="270.38" font-size="6.05" font-weight="normal" text-anchor="middle" fill="#77933c" xml:space="preserve">Samu, Nomad, Jupi, easier</text>
<text x="241.40" y="278.28" font-size="6.05" font-weight="normal" text-anchor="middle" fill="#77933c" xml:space="preserve">females, Diva</text>
<text x="335.30" y="270.38" font-size="6.05" font-weight="normal" text-anchor="middle" fill="#ff0000" xml:space="preserve">more difficult females, trouble,</text>
<text x="335.30" y="278.28" font-size="6.05" font-weight="normal" text-anchor="middle" fill="#ff0000" xml:space="preserve">pinky, (grumpy)</text>
<text x="395.30" y="274.51" font-size="6.25" font-weight="normal" text-anchor="middle" fill="#000">16</text>
<text x="601.20" y="274.51" font-size="6.25" font-weight="normal" text-anchor="middle" fill="#000">18</text>
<text x="696.40" y="274.32" font-size="5.7" font-weight="bold" text-anchor="end" fill="#000">31</text>
<circle cx="107" cy="290.87" r="2.75" fill="url(#dy)" stroke="#e0a448" stroke-width="0.6"/>
<circle cx="128" cy="290.87" r="2.75" fill="url(#dr)" stroke="#cc5560" stroke-width="0.6"/>
<polyline points="414.60,298.30 427.28,298.30 439.96,286.72 452.64,286.72 465.32,298.30 478.00,290.58 490.68,298.30" fill="none" stroke="#f79a3e" stroke-width="1.35" stroke-linejoin="round"/>
<circle cx="414.60" cy="298.30" r="1.5" fill="#c9661a"/>
<circle cx="427.28" cy="298.30" r="1.5" fill="#c9661a"/>
<circle cx="439.96" cy="286.72" r="1.5" fill="#c9661a"/>
<circle cx="452.64" cy="286.72" r="1.5" fill="#c9661a"/>
<circle cx="465.32" cy="298.30" r="1.5" fill="#c9661a"/>
<circle cx="478.00" cy="290.58" r="1.5" fill="#c9661a"/>
<circle cx="490.68" cy="298.30" r="1.5" fill="#c9661a"/>
<text x="8.50" y="293.06" font-size="6.25" font-weight="normal" text-anchor="middle" fill="#000">1</text>
<text x="19.20" y="293.06" font-size="6.25" font-weight="normal" text-anchor="middle" fill="#000">6</text>
<text x="37.40" y="293.06" font-size="6.25" font-weight="normal" text-anchor="middle" fill="#000">TLT</text>
<text x="51.40" y="292.97" font-size="6.0" font-weight="bold" text-anchor="start" fill="#ff0000" clip-path="url(#nclip)">Mikyway</text>
<text x="241.40" y="288.93" font-size="6.05" font-weight="normal" text-anchor="middle" fill="#77933c" xml:space="preserve">Saturn, Rosie, Meggy, Midori,</text>
<text x="241.40" y="296.83" font-size="6.05" font-weight="normal" text-anchor="middle" fill="#77933c" xml:space="preserve">males (Merlot, Taiga)</text>
<text x="335.30" y="292.88" font-size="6.05" font-weight="normal" text-anchor="middle" fill="#ff0000" xml:space="preserve">(Mighty)</text>
<text x="395.30" y="293.06" font-size="6.25" font-weight="normal" text-anchor="middle" fill="#000">16</text>
<text x="601.20" y="293.06" font-size="6.25" font-weight="normal" text-anchor="middle" fill="#000">18</text>
<text x="696.40" y="292.87" font-size="5.7" font-weight="bold" text-anchor="end" fill="#000">31</text>
<circle cx="107" cy="309.43" r="2.75" fill="url(#dy)" stroke="#e0a448" stroke-width="0.6"/>
<circle cx="128" cy="309.43" r="2.75" fill="url(#dr)" stroke="#cc5560" stroke-width="0.6"/>
<polyline points="414.60,301.41 427.28,305.27 439.96,316.85 452.64,316.85 465.32,305.27 478.00,316.85 490.68,316.85" fill="none" stroke="#f79a3e" stroke-width="1.35" stroke-linejoin="round"/>
<circle cx="414.60" cy="301.41" r="1.5" fill="#c9661a"/>
<circle cx="427.28" cy="305.27" r="1.5" fill="#c9661a"/>
<circle cx="439.96" cy="316.85" r="1.5" fill="#c9661a"/>
<circle cx="452.64" cy="316.85" r="1.5" fill="#c9661a"/>
<circle cx="465.32" cy="305.27" r="1.5" fill="#c9661a"/>
<circle cx="478.00" cy="316.85" r="1.5" fill="#c9661a"/>
<circle cx="490.68" cy="316.85" r="1.5" fill="#c9661a"/>
<text x="8.50" y="311.61" font-size="6.25" font-weight="normal" text-anchor="middle" fill="#000">1</text>
<text x="19.20" y="311.61" font-size="6.25" font-weight="normal" text-anchor="middle" fill="#000">9</text>
<text x="37.40" y="311.61" font-size="6.25" font-weight="normal" text-anchor="middle" fill="#000">W</text>
<text x="51.40" y="311.52" font-size="6.0" font-weight="normal" text-anchor="start" fill="#000000" clip-path="url(#nclip)">Jolly</text>
<text x="241.40" y="307.48" font-size="6.05" font-weight="normal" text-anchor="middle" fill="#77933c" xml:space="preserve">Merlin2, Jupi, Bruiser, Bandit clan,</text>
<text x="241.40" y="315.38" font-size="6.05" font-weight="normal" text-anchor="middle" fill="#77933c" xml:space="preserve">Manso, Monty, Ponde,</text>
<text x="335.30" y="307.48" font-size="6.05" font-weight="normal" text-anchor="middle" fill="#ff0000" xml:space="preserve">Generally grumpy dog,</text>
<text x="335.30" y="315.38" font-size="6.05" font-weight="normal" text-anchor="middle" fill="#ff0000" xml:space="preserve">particularly with males like Helge</text>
<text x="395.30" y="311.61" font-size="6.25" font-weight="normal" text-anchor="middle" fill="#000">20</text>
<text x="601.20" y="311.61" font-size="6.25" font-weight="normal" text-anchor="middle" fill="#000">22</text>
<text x="696.40" y="311.42" font-size="5.7" font-weight="bold" text-anchor="end" fill="#000">53,4</text>
<circle cx="107" cy="327.97" r="2.75" fill="url(#dr)" stroke="#cc5560" stroke-width="0.6"/>
<circle cx="128" cy="327.97" r="2.75" fill="url(#dr)" stroke="#cc5560" stroke-width="0.6"/>
<polyline points="414.60,319.96 427.28,335.40 439.96,335.40 452.64,323.82 465.32,323.82 478.00,327.68 490.68,335.40" fill="none" stroke="#f79a3e" stroke-width="1.35" stroke-linejoin="round"/>
<circle cx="414.60" cy="319.96" r="1.5" fill="#c9661a"/>
<circle cx="427.28" cy="335.40" r="1.5" fill="#c9661a"/>
<circle cx="439.96" cy="335.40" r="1.5" fill="#c9661a"/>
<circle cx="452.64" cy="323.82" r="1.5" fill="#c9661a"/>
<circle cx="465.32" cy="323.82" r="1.5" fill="#c9661a"/>
<circle cx="478.00" cy="327.68" r="1.5" fill="#c9661a"/>
<circle cx="490.68" cy="335.40" r="1.5" fill="#c9661a"/>
<text x="8.50" y="330.16" font-size="6.25" font-weight="normal" text-anchor="middle" fill="#000">1</text>
<text x="19.20" y="330.16" font-size="6.25" font-weight="normal" text-anchor="middle" fill="#000">1</text>
<text x="37.40" y="330.16" font-size="6.25" font-weight="normal" text-anchor="middle" fill="#000">LA / T</text>
<text x="51.40" y="330.07" font-size="6.0" font-weight="normal" text-anchor="start" fill="#000000" clip-path="url(#nclip)">Helge</text>
<text x="241.40" y="326.03" font-size="6.05" font-weight="normal" text-anchor="middle" fill="#77933c" xml:space="preserve">Bella, Suka, Max, Bono, Hulda,</text>
<text x="241.40" y="333.93" font-size="6.05" font-weight="normal" text-anchor="middle" fill="#77933c" xml:space="preserve">Pepe, Monty, Bandit, Matsku,</text>
<text x="335.30" y="329.98" font-size="6.05" font-weight="normal" text-anchor="middle" fill="#ff0000" xml:space="preserve">Many males, Merlin2 (Princess)</text>
<text x="395.30" y="330.16" font-size="6.25" font-weight="normal" text-anchor="middle" fill="#000">24</text>
<text x="601.20" y="330.16" font-size="6.25" font-weight="normal" text-anchor="middle" fill="#000">26</text>
<text x="696.40" y="329.97" font-size="5.7" font-weight="bold" text-anchor="end" fill="#000">77,5</text>
<circle cx="107" cy="346.52" r="2.75" fill="url(#dr)" stroke="#cc5560" stroke-width="0.6"/>
<circle cx="128" cy="346.52" r="2.75" fill="url(#dr)" stroke="#cc5560" stroke-width="0.6"/>
<polyline points="414.60,338.51 427.28,353.95 439.96,342.37 452.64,353.95 465.32,342.37 478.00,346.23 490.68,353.95" fill="none" stroke="#f79a3e" stroke-width="1.35" stroke-linejoin="round"/>
<circle cx="414.60" cy="338.51" r="1.5" fill="#c9661a"/>
<circle cx="427.28" cy="353.95" r="1.5" fill="#c9661a"/>
<circle cx="439.96" cy="342.37" r="1.5" fill="#c9661a"/>
<circle cx="452.64" cy="353.95" r="1.5" fill="#c9661a"/>
<circle cx="465.32" cy="342.37" r="1.5" fill="#c9661a"/>
<circle cx="478.00" cy="346.23" r="1.5" fill="#c9661a"/>
<circle cx="490.68" cy="353.95" r="1.5" fill="#c9661a"/>
<text x="8.50" y="348.71" font-size="6.25" font-weight="normal" text-anchor="middle" fill="#000">1</text>
<text x="19.20" y="348.71" font-size="6.25" font-weight="normal" text-anchor="middle" fill="#000">2</text>
<text x="37.40" y="348.71" font-size="6.25" font-weight="normal" text-anchor="middle" fill="#000">LB</text>
<text x="51.40" y="348.62" font-size="6.0" font-weight="normal" text-anchor="start" fill="#ff0000" clip-path="url(#nclip)">Diva</text>
<text x="241.40" y="344.58" font-size="6.05" font-weight="normal" text-anchor="middle" fill="#77933c" xml:space="preserve">Comet, Bandit, Matsku, Cherry,</text>
<text x="241.40" y="352.48" font-size="6.05" font-weight="normal" text-anchor="middle" fill="#77933c" xml:space="preserve">Madonna,</text>
<text x="335.30" y="348.53" font-size="6.05" font-weight="normal" text-anchor="middle" fill="#ff0000" xml:space="preserve">Hulda, Cloud.  Too fast 4 Max,</text>
<text x="395.30" y="348.71" font-size="6.25" font-weight="normal" text-anchor="middle" fill="#000">24</text>
<text x="601.20" y="348.71" font-size="6.25" font-weight="normal" text-anchor="middle" fill="#000">26</text>
<text x="696.40" y="348.52" font-size="5.7" font-weight="bold" text-anchor="end" fill="#000">77,5</text>
<circle cx="107" cy="365.07" r="2.75" fill="url(#dr)" stroke="#cc5560" stroke-width="0.6"/>
<circle cx="128" cy="365.07" r="2.75" fill="url(#dr)" stroke="#cc5560" stroke-width="0.6"/>
<polyline points="414.60,357.06 427.28,372.50 439.96,372.50 452.64,360.92 465.32,360.92 478.00,364.78 490.68,372.50" fill="none" stroke="#f79a3e" stroke-width="1.35" stroke-linejoin="round"/>
<circle cx="414.60" cy="357.06" r="1.5" fill="#c9661a"/>
<circle cx="427.28" cy="372.50" r="1.5" fill="#c9661a"/>
<circle cx="439.96" cy="372.50" r="1.5" fill="#c9661a"/>
<circle cx="452.64" cy="360.92" r="1.5" fill="#c9661a"/>
<circle cx="465.32" cy="360.92" r="1.5" fill="#c9661a"/>
<circle cx="478.00" cy="364.78" r="1.5" fill="#c9661a"/>
<circle cx="490.68" cy="372.50" r="1.5" fill="#c9661a"/>
<text x="8.50" y="367.26" font-size="6.25" font-weight="normal" text-anchor="middle" fill="#000">1</text>
<text x="19.20" y="367.26" font-size="6.25" font-weight="normal" text-anchor="middle" fill="#000">2</text>
<text x="37.40" y="367.26" font-size="6.25" font-weight="normal" text-anchor="middle" fill="#000">LB</text>
<text x="51.40" y="367.17" font-size="6.0" font-weight="normal" text-anchor="start" fill="#000000" clip-path="url(#nclip)">Mars</text>
<text x="241.40" y="363.13" font-size="6.05" font-weight="normal" text-anchor="middle" fill="#77933c" xml:space="preserve">Fairly easy; Leon, Pepe, Jupi,</text>
<text x="241.40" y="371.03" font-size="6.05" font-weight="normal" text-anchor="middle" fill="#77933c" xml:space="preserve">Bino, Thunder</text>
<text x="395.30" y="367.26" font-size="6.25" font-weight="normal" text-anchor="middle" fill="#000">24</text>
<text x="601.20" y="367.26" font-size="6.25" font-weight="normal" text-anchor="middle" fill="#000">26</text>
<text x="696.40" y="367.07" font-size="5.7" font-weight="bold" text-anchor="end" fill="#000">77,5</text>
<circle cx="107" cy="383.62" r="2.75" fill="url(#dr)" stroke="#cc5560" stroke-width="0.6"/>
<circle cx="128" cy="383.62" r="2.75" fill="url(#dr)" stroke="#cc5560" stroke-width="0.6"/>
<polyline points="414.60,375.61 427.28,391.05 439.96,379.47 452.64,379.47 465.32,391.05 478.00,383.33 490.68,391.05" fill="none" stroke="#f79a3e" stroke-width="1.35" stroke-linejoin="round"/>
<circle cx="414.60" cy="375.61" r="1.5" fill="#c9661a"/>
<circle cx="427.28" cy="391.05" r="1.5" fill="#c9661a"/>
<circle cx="439.96" cy="379.47" r="1.5" fill="#c9661a"/>
<circle cx="452.64" cy="379.47" r="1.5" fill="#c9661a"/>
<circle cx="465.32" cy="391.05" r="1.5" fill="#c9661a"/>
<circle cx="478.00" cy="383.33" r="1.5" fill="#c9661a"/>
<circle cx="490.68" cy="391.05" r="1.5" fill="#c9661a"/>
<text x="8.50" y="385.81" font-size="6.25" font-weight="normal" text-anchor="middle" fill="#000">1</text>
<text x="19.20" y="385.81" font-size="6.25" font-weight="normal" text-anchor="middle" fill="#000">3</text>
<text x="37.40" y="385.81" font-size="6.25" font-weight="normal" text-anchor="middle" fill="#000">2L</text>
<text x="51.40" y="385.72" font-size="6.0" font-weight="normal" text-anchor="start" fill="#000000" clip-path="url(#nclip)">Pinky (back boor</text>
<text x="241.40" y="385.63" font-size="6.05" font-weight="normal" text-anchor="middle" fill="#77933c" xml:space="preserve">Cloud, Males, Samu , Max, Muller</text>
<text x="335.30" y="381.68" font-size="6.05" font-weight="normal" text-anchor="middle" fill="#ff0000" xml:space="preserve">Peanut, Bandit &amp; clan, Diva,</text>
<text x="335.30" y="389.58" font-size="6.05" font-weight="normal" text-anchor="middle" fill="#ff0000" xml:space="preserve">Suka, Sila, Arrow</text>
<text x="395.30" y="385.81" font-size="6.25" font-weight="normal" text-anchor="middle" fill="#000">24</text>
<text x="601.20" y="385.81" font-size="6.25" font-weight="normal" text-anchor="middle" fill="#000">26</text>
<text x="696.40" y="385.62" font-size="5.7" font-weight="bold" text-anchor="end" fill="#000">77,5</text>
<circle cx="107" cy="402.17" r="2.75" fill="url(#dy)" stroke="#e0a448" stroke-width="0.6"/>
<circle cx="128" cy="402.17" r="2.75" fill="url(#dk)" stroke="#000" stroke-width="0.6"/>
<polyline points="414.60,409.60 427.28,398.02 439.96,405.74 452.64,401.88 465.32,409.60 478.00,409.60 490.68,409.60" fill="none" stroke="#f79a3e" stroke-width="1.35" stroke-linejoin="round"/>
<circle cx="414.60" cy="409.60" r="1.5" fill="#c9661a"/>
<circle cx="427.28" cy="398.02" r="1.5" fill="#c9661a"/>
<circle cx="439.96" cy="405.74" r="1.5" fill="#c9661a"/>
<circle cx="452.64" cy="401.88" r="1.5" fill="#c9661a"/>
<circle cx="465.32" cy="409.60" r="1.5" fill="#c9661a"/>
<circle cx="478.00" cy="409.60" r="1.5" fill="#c9661a"/>
<circle cx="490.68" cy="409.60" r="1.5" fill="#c9661a"/>
<text x="8.50" y="404.13" font-size="5.6" font-weight="normal" text-anchor="middle" fill="#000">10</text>
<text x="19.20" y="404.20" font-size="5.8" font-weight="normal" text-anchor="middle" fill="#000">20</text>
<text x="37.40" y="404.36" font-size="6.25" font-weight="normal" text-anchor="middle" fill="#000">LA</text>
<text x="51.40" y="404.27" font-size="6.0" font-weight="normal" text-anchor="start" fill="#000000" font-style="italic" clip-path="url(#nclip)">Max</text>
<text x="154.30" y="400.01" font-size="5.7" font-weight="normal" text-anchor="middle" fill="#000" xml:space="preserve">OLD DOG -</text>
<text x="154.30" y="407.21" font-size="5.7" font-weight="normal" text-anchor="middle" fill="#000" xml:space="preserve">REDUCE</text>
<text x="241.40" y="400.23" font-size="6.05" font-weight="normal" text-anchor="middle" fill="#77933c" xml:space="preserve">Nearly anyone, good influence on</text>
<text x="241.40" y="408.13" font-size="6.05" font-weight="normal" text-anchor="middle" fill="#77933c" xml:space="preserve">Hulda, Save, Arvi</text>
<text x="335.30" y="404.18" font-size="6.05" font-weight="normal" text-anchor="middle" fill="#ff0000" xml:space="preserve">Pepe, Jupi</text>
<text x="395.30" y="404.36" font-size="6.25" font-weight="normal" text-anchor="middle" fill="#000">12</text>
<text x="601.20" y="404.36" font-size="6.25" font-weight="normal" text-anchor="middle" fill="#000">14</text>
<text x="696.40" y="404.17" font-size="5.7" font-weight="bold" text-anchor="end" fill="#000">15,5</text>
<circle cx="107" cy="420.72" r="2.75" fill="url(#dy)" stroke="#e0a448" stroke-width="0.6"/>
<circle cx="128" cy="420.72" r="2.75" fill="url(#dk)" stroke="#000" stroke-width="0.6"/>
<polyline points="414.60,428.15 427.28,416.57 439.96,420.43 452.64,420.43 465.32,428.15 478.00,428.15 490.68,428.15" fill="none" stroke="#f79a3e" stroke-width="1.35" stroke-linejoin="round"/>
<circle cx="414.60" cy="428.15" r="1.5" fill="#c9661a"/>
<circle cx="427.28" cy="416.57" r="1.5" fill="#c9661a"/>
<circle cx="439.96" cy="420.43" r="1.5" fill="#c9661a"/>
<circle cx="452.64" cy="420.43" r="1.5" fill="#c9661a"/>
<circle cx="465.32" cy="428.15" r="1.5" fill="#c9661a"/>
<circle cx="478.00" cy="428.15" r="1.5" fill="#c9661a"/>
<circle cx="490.68" cy="428.15" r="1.5" fill="#c9661a"/>
<text x="8.50" y="422.68" font-size="5.6" font-weight="normal" text-anchor="middle" fill="#000">10</text>
<text x="19.20" y="422.75" font-size="5.8" font-weight="normal" text-anchor="middle" fill="#000">20</text>
<text x="37.40" y="422.91" font-size="6.25" font-weight="normal" text-anchor="middle" fill="#000">2L</text>
<text x="51.40" y="422.82" font-size="6.0" font-weight="normal" text-anchor="start" fill="#000000" clip-path="url(#nclip)">Venus</text>
<text x="154.30" y="418.56" font-size="5.7" font-weight="normal" text-anchor="middle" fill="#000" xml:space="preserve">STOP -</text>
<text x="154.30" y="425.76" font-size="5.7" font-weight="normal" text-anchor="middle" fill="#000" xml:space="preserve">with pup</text>
<text x="241.40" y="418.78" font-size="6.05" font-weight="normal" text-anchor="middle" fill="#77933c" xml:space="preserve">Madonna, Princess, Suka,</text>
<text x="241.40" y="426.68" font-size="6.05" font-weight="normal" text-anchor="middle" fill="#77933c" xml:space="preserve">Tundra, Okra, Blade</text>
<text x="395.30" y="422.91" font-size="6.25" font-weight="normal" text-anchor="middle" fill="#000">14</text>
<text x="601.20" y="422.91" font-size="6.25" font-weight="normal" text-anchor="middle" fill="#000">16</text>
<text x="696.40" y="422.72" font-size="5.7" font-weight="bold" text-anchor="end" fill="#000">25,8</text>
<circle cx="107" cy="439.27" r="2.75" fill="url(#dr)" stroke="#cc5560" stroke-width="0.6"/>
<circle cx="128" cy="439.27" r="2.75" fill="url(#dk)" stroke="#000" stroke-width="0.6"/>
<polyline points="414.60,431.26 427.28,446.70 439.96,435.12 452.64,446.70 465.32,435.12 478.00,446.70 490.68,442.84" fill="none" stroke="#f79a3e" stroke-width="1.35" stroke-linejoin="round"/>
<circle cx="414.60" cy="431.26" r="1.5" fill="#c9661a"/>
<circle cx="427.28" cy="446.70" r="1.5" fill="#c9661a"/>
<circle cx="439.96" cy="435.12" r="1.5" fill="#c9661a"/>
<circle cx="452.64" cy="446.70" r="1.5" fill="#c9661a"/>
<circle cx="465.32" cy="435.12" r="1.5" fill="#c9661a"/>
<circle cx="478.00" cy="446.70" r="1.5" fill="#c9661a"/>
<circle cx="490.68" cy="442.84" r="1.5" fill="#c9661a"/>
<text x="8.50" y="441.23" font-size="5.6" font-weight="normal" text-anchor="middle" fill="#000">10</text>
<text x="19.20" y="441.30" font-size="5.8" font-weight="normal" text-anchor="middle" fill="#000">20</text>
<text x="37.40" y="441.46" font-size="6.25" font-weight="normal" text-anchor="middle" fill="#000">LA</text>
<text x="51.40" y="441.37" font-size="6.0" font-weight="normal" text-anchor="start" fill="#000000" clip-path="url(#nclip)">Pepe</text>
<text x="154.30" y="437.11" font-size="5.7" font-weight="normal" text-anchor="middle" fill="#000" xml:space="preserve">STOP -</text>
<text x="154.30" y="444.31" font-size="5.7" font-weight="normal" text-anchor="middle" fill="#000" xml:space="preserve">LIMPING</text>
<text x="241.40" y="437.33" font-size="6.05" font-weight="normal" text-anchor="middle" fill="#77933c" xml:space="preserve">Pinky, Matsku, Ionina, Max,</text>
<text x="241.40" y="445.23" font-size="6.05" font-weight="normal" text-anchor="middle" fill="#77933c" xml:space="preserve">Samu, Arvi,</text>
<text x="335.30" y="437.33" font-size="6.05" font-weight="normal" text-anchor="middle" fill="#ff0000" xml:space="preserve">Bandit Max, Princess (can be</text>
<text x="335.30" y="445.23" font-size="6.05" font-weight="normal" text-anchor="middle" fill="#ff0000" xml:space="preserve">grumpy so match carefully)</text>
<text x="395.30" y="441.46" font-size="6.25" font-weight="normal" text-anchor="middle" fill="#000">22</text>
<text x="601.20" y="441.46" font-size="6.25" font-weight="normal" text-anchor="middle" fill="#000">24</text>
<text x="696.40" y="441.27" font-size="5.7" font-weight="bold" text-anchor="end" fill="#000">70,6</text>
<circle cx="107" cy="457.82" r="2.75" fill="url(#dg)" stroke="#3f9e5c" stroke-width="0.6"/>
<circle cx="128" cy="457.82" r="2.75" fill="url(#dk)" stroke="#000" stroke-width="0.6"/>
<polyline points="414.60,465.25 427.28,465.25 439.96,465.25 452.64,465.25 465.32,465.25 478.00,465.25 490.68,465.25" fill="none" stroke="#f79a3e" stroke-width="1.35" stroke-linejoin="round"/>
<circle cx="414.60" cy="465.25" r="1.5" fill="#c9661a"/>
<circle cx="427.28" cy="465.25" r="1.5" fill="#c9661a"/>
<circle cx="439.96" cy="465.25" r="1.5" fill="#c9661a"/>
<circle cx="452.64" cy="465.25" r="1.5" fill="#c9661a"/>
<circle cx="465.32" cy="465.25" r="1.5" fill="#c9661a"/>
<circle cx="478.00" cy="465.25" r="1.5" fill="#c9661a"/>
<circle cx="490.68" cy="465.25" r="1.5" fill="#c9661a"/>
<text x="8.50" y="459.78" font-size="5.6" font-weight="normal" text-anchor="middle" fill="#000">10</text>
<text x="19.20" y="459.85" font-size="5.8" font-weight="normal" text-anchor="middle" fill="#000">20</text>
<text x="37.40" y="460.01" font-size="6.25" font-weight="normal" text-anchor="middle" fill="#000">OO</text>
<text x="51.40" y="459.92" font-size="6.0" font-weight="normal" text-anchor="start" fill="#000000" font-style="italic" clip-path="url(#nclip)">Ruub</text>
<text x="154.30" y="459.26" font-size="5.7" font-weight="normal" text-anchor="middle" fill="#000" xml:space="preserve">RETIRED</text>
<text x="241.40" y="455.88" font-size="6.05" font-weight="normal" text-anchor="middle" fill="#77933c" xml:space="preserve">Atlas, Pepe, Plan, Sanna, Much,</text>
<text x="241.40" y="463.78" font-size="6.05" font-weight="normal" text-anchor="middle" fill="#77933c" xml:space="preserve">Save most dogs</text>
<text x="335.30" y="459.83" font-size="6.05" font-weight="normal" text-anchor="middle" fill="#ff0000" xml:space="preserve">(Jopa)</text>
<text x="395.30" y="460.01" font-size="6.25" font-weight="normal" text-anchor="middle" fill="#000">0</text>
<text x="601.20" y="460.01" font-size="6.25" font-weight="normal" text-anchor="middle" fill="#000">0</text>
<text x="696.40" y="459.82" font-size="5.7" font-weight="bold" text-anchor="end" fill="#000">0,8</text>
<line x1="2.60" y1="133.00" x2="698.00" y2="133.00" stroke="#b4c8e4" stroke-width="1.25"/>
<line x1="2.60" y1="151.55" x2="698.00" y2="151.55" stroke="#b4c8e4" stroke-width="1.25"/>
<line x1="2.60" y1="170.10" x2="698.00" y2="170.10" stroke="#b4c8e4" stroke-width="1.25"/>
<line x1="2.60" y1="188.65" x2="698.00" y2="188.65" stroke="#b4c8e4" stroke-width="1.25"/>
<line x1="2.60" y1="207.20" x2="698.00" y2="207.20" stroke="#b4c8e4" stroke-width="1.25"/>
<line x1="2.60" y1="225.75" x2="698.00" y2="225.75" stroke="#b4c8e4" stroke-width="1.25"/>
<line x1="2.60" y1="244.30" x2="698.00" y2="244.30" stroke="#b4c8e4" stroke-width="1.25"/>
<line x1="2.60" y1="262.85" x2="698.00" y2="262.85" stroke="#b4c8e4" stroke-width="1.25"/>
<line x1="2.60" y1="281.40" x2="698.00" y2="281.40" stroke="#b4c8e4" stroke-width="1.25"/>
<line x1="2.60" y1="299.95" x2="698.00" y2="299.95" stroke="#b4c8e4" stroke-width="1.25"/>
<line x1="2.60" y1="318.50" x2="698.00" y2="318.50" stroke="#b4c8e4" stroke-width="1.25"/>
<line x1="2.60" y1="337.05" x2="698.00" y2="337.05" stroke="#b4c8e4" stroke-width="1.25"/>
<line x1="2.60" y1="355.60" x2="698.00" y2="355.60" stroke="#b4c8e4" stroke-width="1.25"/>
<line x1="2.60" y1="374.15" x2="698.00" y2="374.15" stroke="#b4c8e4" stroke-width="1.25"/>
<line x1="2.60" y1="392.70" x2="698.00" y2="392.70" stroke="#b4c8e4" stroke-width="1.25"/>
<line x1="2.60" y1="411.25" x2="698.00" y2="411.25" stroke="#b4c8e4" stroke-width="1.25"/>
<line x1="2.60" y1="429.80" x2="698.00" y2="429.80" stroke="#b4c8e4" stroke-width="1.25"/>
<line x1="2.60" y1="448.35" x2="698.00" y2="448.35" stroke="#b4c8e4" stroke-width="1.25"/>
<line x1="2.60" y1="466.90" x2="698.00" y2="466.90" stroke="#b4c8e4" stroke-width="1.25"/>
<line x1="2.80" y1="133.00" x2="2.80" y2="467.00" stroke="#aac3e6" stroke-width="1.0"/>
<line x1="13.70" y1="133.00" x2="13.70" y2="467.00" stroke="#93b3df" stroke-width="0.9" stroke-dasharray="1 1"/>
<rect x="503.40" y="132.95" width="39.40" height="18.30" fill="#ffffff" fill-opacity="0.9"/>
<rect x="614.80" y="133.00" width="5.99" height="18.65" fill="#ffffff" fill-opacity="0.55"/>
<rect x="525.60" y="151.50" width="17.20" height="18.30" fill="#ffffff" fill-opacity="0.9"/>
<rect x="614.80" y="151.55" width="5.33" height="18.65" fill="#ffffff" fill-opacity="0.55"/>
<rect x="537.30" y="170.05" width="5.50" height="18.30" fill="#ffffff" fill-opacity="0.9"/>
<rect x="614.80" y="170.10" width="1.06" height="18.65" fill="#ffffff" fill-opacity="0.55"/>
<rect x="498.00" y="188.60" width="44.80" height="18.30" fill="#ffffff" fill-opacity="0.9"/>
<rect x="614.80" y="188.65" width="3.93" height="18.65" fill="#ffffff" fill-opacity="0.55"/>
<rect x="534.70" y="207.15" width="8.10" height="18.30" fill="#ffffff" fill-opacity="0.9"/>
<rect x="614.80" y="207.20" width="25.88" height="18.65" fill="#ffffff" fill-opacity="0.55"/>
<rect x="169.90" y="225.20" width="24.80" height="20.10" fill="#ffffff" fill-opacity="0.0"/>
<rect x="534.70" y="225.70" width="8.10" height="18.30" fill="#ffffff" fill-opacity="0.9"/>
<rect x="614.80" y="225.75" width="25.88" height="18.65" fill="#ffffff" fill-opacity="0.55"/>
<rect x="534.70" y="244.25" width="8.10" height="18.30" fill="#ffffff" fill-opacity="0.9"/>
<rect x="614.80" y="244.30" width="33.69" height="18.65" fill="#ffffff" fill-opacity="0.55"/>
<rect x="534.70" y="262.80" width="8.10" height="18.30" fill="#ffffff" fill-opacity="0.9"/>
<rect x="614.80" y="262.85" width="25.88" height="18.65" fill="#ffffff" fill-opacity="0.55"/>
<rect x="169.90" y="280.85" width="24.80" height="20.10" fill="#ffffff" fill-opacity="0.0"/>
<rect x="534.70" y="281.35" width="8.10" height="18.30" fill="#ffffff" fill-opacity="0.9"/>
<rect x="614.80" y="281.40" width="25.88" height="18.65" fill="#ffffff" fill-opacity="0.55"/>
<rect x="542.70" y="299.90" width="3.10" height="18.30" fill="#ffffff" fill-opacity="0.9"/>
<rect x="614.80" y="299.95" width="44.29" height="18.65" fill="#ffffff" fill-opacity="0.55"/>
<rect x="542.70" y="318.45" width="13.40" height="18.30" fill="#ffffff" fill-opacity="0.9"/>
<rect x="614.80" y="318.50" width="64.11" height="18.65" fill="#ffffff" fill-opacity="0.55"/>
<rect x="542.70" y="337.00" width="13.40" height="18.30" fill="#ffffff" fill-opacity="0.9"/>
<rect x="614.80" y="337.05" width="64.11" height="18.65" fill="#ffffff" fill-opacity="0.55"/>
<rect x="542.70" y="355.55" width="13.40" height="18.30" fill="#ffffff" fill-opacity="0.9"/>
<rect x="614.80" y="355.60" width="64.11" height="18.65" fill="#ffffff" fill-opacity="0.55"/>
<rect x="542.70" y="374.10" width="13.40" height="18.30" fill="#ffffff" fill-opacity="0.9"/>
<rect x="614.80" y="374.15" width="64.11" height="18.65" fill="#ffffff" fill-opacity="0.55"/>
<rect x="542.70" y="392.65" width="7.80" height="18.30" fill="#ffffff" fill-opacity="0.9"/>
<rect x="614.80" y="392.70" width="13.14" height="18.65" fill="#ffffff" fill-opacity="0.55"/>
<rect x="169.90" y="410.70" width="24.80" height="20.10" fill="#ffffff" fill-opacity="0.0"/>
<rect x="542.70" y="411.20" width="12.90" height="18.30" fill="#ffffff" fill-opacity="0.9"/>
<rect x="614.80" y="411.25" width="21.61" height="18.65" fill="#ffffff" fill-opacity="0.55"/>
<rect x="542.70" y="429.75" width="34.30" height="18.30" fill="#ffffff" fill-opacity="0.9"/>
<rect x="614.80" y="429.80" width="58.43" height="18.65" fill="#ffffff" fill-opacity="0.55"/>
<rect x="518.40" y="448.30" width="24.40" height="18.30" fill="#ffffff" fill-opacity="0.9"/>
<rect x="614.80" y="448.35" width="1.06" height="18.65" fill="#ffffff" fill-opacity="0.55"/>
<rect x="503.60" y="133.65" width="39.00" height="16.90" fill="#63c384"/>
<rect x="615.00" y="133.70" width="5.59" height="17.25" fill="#feb52b"/>
<rect x="525.80" y="152.20" width="16.80" height="16.90" fill="#63c384"/>
<rect x="615.00" y="152.25" width="4.93" height="17.25" fill="#feb52b"/>
<rect x="537.50" y="170.75" width="5.10" height="16.90" fill="#63c384"/>
<rect x="615.00" y="170.80" width="0.66" height="17.25" fill="#feb52b"/>
<rect x="498.20" y="189.30" width="44.40" height="16.90" fill="#63c384"/>
<rect x="615.00" y="189.35" width="3.53" height="17.25" fill="#feb52b"/>
<rect x="534.90" y="207.85" width="7.70" height="16.90" fill="#63c384"/>
<rect x="615.00" y="207.90" width="25.48" height="17.25" fill="#feb52b"/>
<rect x="170.10" y="225.90" width="24.40" height="18.70" fill="#ff66cc"/>
<rect x="534.90" y="226.40" width="7.70" height="16.90" fill="#63c384"/>
<rect x="615.00" y="226.45" width="25.48" height="17.25" fill="#feb52b"/>
<rect x="534.90" y="244.95" width="7.70" height="16.90" fill="#63c384"/>
<rect x="615.00" y="245.00" width="33.29" height="17.25" fill="#feb52b"/>
<rect x="534.90" y="263.50" width="7.70" height="16.90" fill="#63c384"/>
<rect x="615.00" y="263.55" width="25.48" height="17.25" fill="#feb52b"/>
<rect x="170.10" y="281.55" width="24.40" height="18.70" fill="#ff0000"/>
<rect x="534.90" y="282.05" width="7.70" height="16.90" fill="#63c384"/>
<rect x="615.00" y="282.10" width="25.48" height="17.25" fill="#feb52b"/>
<rect x="542.90" y="300.60" width="2.70" height="16.90" fill="#ff0000"/>
<rect x="615.00" y="300.65" width="43.89" height="17.25" fill="#feb52b"/>
<rect x="542.90" y="319.15" width="13.00" height="16.90" fill="#ff0000"/>
<rect x="615.00" y="319.20" width="63.70" height="17.25" fill="#feb52b"/>
<rect x="542.90" y="337.70" width="13.00" height="16.90" fill="#ff0000"/>
<rect x="615.00" y="337.75" width="63.70" height="17.25" fill="#feb52b"/>
<rect x="542.90" y="356.25" width="13.00" height="16.90" fill="#ff0000"/>
<rect x="615.00" y="356.30" width="63.70" height="17.25" fill="#feb52b"/>
<rect x="542.90" y="374.80" width="13.00" height="16.90" fill="#ff0000"/>
<rect x="615.00" y="374.85" width="63.70" height="17.25" fill="#feb52b"/>
<rect x="542.90" y="393.35" width="7.40" height="16.90" fill="#ff0000"/>
<rect x="615.00" y="393.40" width="12.74" height="17.25" fill="#feb52b"/>
<rect x="170.10" y="411.40" width="24.40" height="18.70" fill="#ffff00"/>
<rect x="542.90" y="411.90" width="12.50" height="16.90" fill="#ff0000"/>
<rect x="615.00" y="411.95" width="21.21" height="17.25" fill="#feb52b"/>
<rect x="542.90" y="430.45" width="33.90" height="16.90" fill="#ff0000"/>
<rect x="615.00" y="430.50" width="58.03" height="17.25" fill="#feb52b"/>
<rect x="518.60" y="449.00" width="24.00" height="16.90" fill="#63c384"/>
<rect x="615.00" y="449.05" width="0.66" height="17.25" fill="#feb52b"/>
<line x1="0.00" y1="466.60" x2="700.00" y2="466.60" stroke="#8c8c8c" stroke-width="1.0"/>
<line x1="542.70" y1="133.00" x2="542.70" y2="467.00" stroke="#222" stroke-width="0.9" stroke-dasharray="3.4 1.1"/>
<line x1="195.00" y1="115.00" x2="195.00" y2="467.00" stroke="#f9b274" stroke-width="1.4"/>
<line x1="381.50" y1="115.00" x2="381.50" y2="467.00" stroke="#f9b274" stroke-width="1.4"/>
<line x1="588.00" y1="115.00" x2="588.00" y2="467.00" stroke="#f9b274" stroke-width="1.4"/>
<line x1="698.00" y1="115.00" x2="698.00" y2="467.00" stroke="#f9b274" stroke-width="1.4"/>
</svg>

</div>
</body></html>
